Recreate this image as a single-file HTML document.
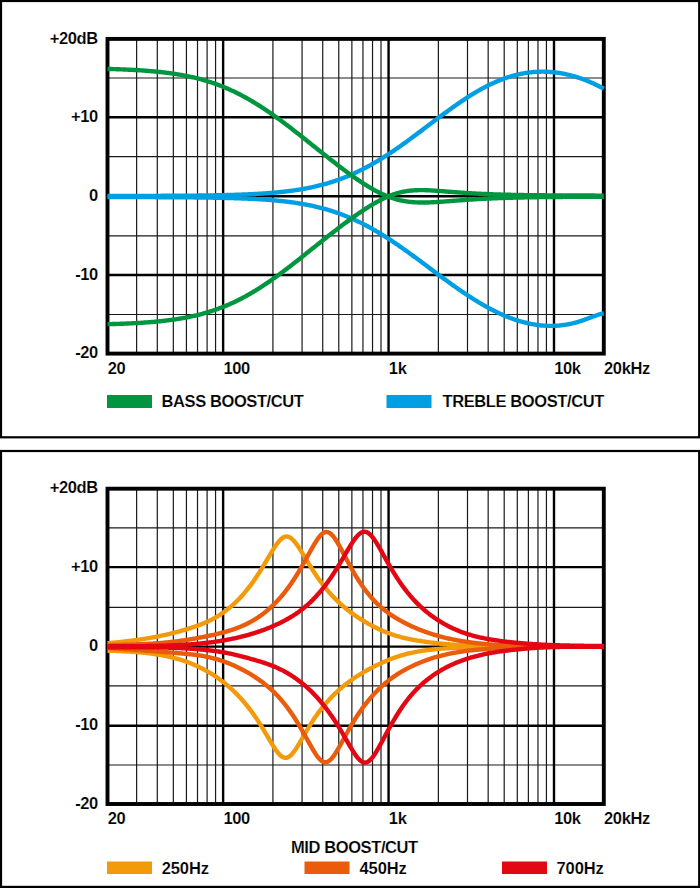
<!DOCTYPE html>
<html><head><meta charset="utf-8"><style>
html,body{margin:0;padding:0;background:#fff;width:700px;height:888px;overflow:hidden}
svg{display:block}
.t{font-family:"Liberation Sans",sans-serif;font-weight:bold;font-size:16.5px;fill:#000;letter-spacing:-0.4px;stroke:#fff;stroke-width:0.15px}
.hz{letter-spacing:-0.1px}
</style></head><body>
<svg width="700" height="888" viewBox="0 0 700 888">
<rect width="700" height="888" fill="#fff"/>
<rect x="1" y="1" width="698.2" height="436.3" fill="none" stroke="#000" stroke-width="2.2"/>
<rect x="1" y="451" width="698.2" height="435.9" fill="none" stroke="#000" stroke-width="2.2"/>
<path d="M136.63,38.90V353.60M157.30,38.90V353.60M173.33,38.90V353.60M186.43,38.90V353.60M197.51,38.90V353.60M207.10,38.90V353.60M215.56,38.90V353.60M272.93,38.90V353.60M302.06,38.90V353.60M322.73,38.90V353.60M338.77,38.90V353.60M351.87,38.90V353.60M362.94,38.90V353.60M372.53,38.90V353.60M381.00,38.90V353.60M438.37,38.90V353.60M467.50,38.90V353.60M488.17,38.90V353.60M504.20,38.90V353.60M517.30,38.90V353.60M528.37,38.90V353.60M537.97,38.90V353.60M546.43,38.90V353.60M107.50,78.00H603.80M107.50,156.57H603.80M107.50,235.80H603.80M107.50,314.50H603.80" stroke="#1a1a1a" stroke-width="1.2" fill="none"/>
<path d="M223.13,38.90V353.60M388.57,38.90V353.60M554.00,38.90V353.60M107.50,117.30H603.80M107.50,196.20H603.80M107.50,275.00H603.80" stroke="#000" stroke-width="2.4" fill="none"/>
<rect x="107.5" y="38.90" width="496.30" height="314.70" fill="none" stroke="#000" stroke-width="3.9"/>
<path d="M136.63,488.70V804.00M157.30,488.70V804.00M173.33,488.70V804.00M186.43,488.70V804.00M197.51,488.70V804.00M207.10,488.70V804.00M215.56,488.70V804.00M272.93,488.70V804.00M302.06,488.70V804.00M322.73,488.70V804.00M338.77,488.70V804.00M351.87,488.70V804.00M362.94,488.70V804.00M372.53,488.70V804.00M381.00,488.70V804.00M438.37,488.70V804.00M467.50,488.70V804.00M488.17,488.70V804.00M504.20,488.70V804.00M517.30,488.70V804.00M528.37,488.70V804.00M537.97,488.70V804.00M546.43,488.70V804.00M107.50,527.80H603.80M107.50,607.30H603.80M107.50,685.80H603.80M107.50,765.00H603.80" stroke="#1a1a1a" stroke-width="1.2" fill="none"/>
<path d="M223.13,488.70V804.00M388.57,488.70V804.00M554.00,488.70V804.00M107.50,567.10H603.80M107.50,646.60H603.80M107.50,725.70H603.80" stroke="#000" stroke-width="2.4" fill="none"/>
<rect x="107.5" y="488.70" width="496.30" height="315.30" fill="none" stroke="#000" stroke-width="3.9"/>
<text x="97.8" y="43.60" text-anchor="end" class="t">+20dB</text>
<text x="97.8" y="122.28" text-anchor="end" class="t">+10</text>
<text x="97.8" y="200.95" text-anchor="end" class="t">0</text>
<text x="97.8" y="279.62" text-anchor="end" class="t">-10</text>
<text x="97.8" y="358.30" text-anchor="end" class="t">-20</text>
<text x="107.80" y="373.90" class="t">20</text>
<text x="223.43" y="373.90" class="t">100</text>
<text x="388.87" y="373.90" class="t">1k</text>
<text x="554.30" y="373.90" class="t">10k</text>
<text x="604.10" y="373.90" class="t">20kHz</text>
<text x="97.8" y="493.40" text-anchor="end" class="t">+20dB</text>
<text x="97.8" y="572.23" text-anchor="end" class="t">+10</text>
<text x="97.8" y="651.05" text-anchor="end" class="t">0</text>
<text x="97.8" y="729.88" text-anchor="end" class="t">-10</text>
<text x="97.8" y="808.70" text-anchor="end" class="t">-20</text>
<text x="107.80" y="824.00" class="t">20</text>
<text x="223.43" y="824.00" class="t">100</text>
<text x="388.87" y="824.00" class="t">1k</text>
<text x="554.30" y="824.00" class="t">10k</text>
<text x="604.10" y="824.00" class="t">20kHz</text>
<rect x="107" y="395" width="45" height="13" fill="#009640"/>
<text x="161.5" y="407.3" class="t">BASS BOOST/CUT</text>
<rect x="386.5" y="395" width="45" height="13" fill="#009FE3"/>
<text x="442.5" y="407.3" class="t">TREBLE BOOST/CUT</text>
<text x="291" y="852.8" class="t">MID BOOST/CUT</text>
<rect x="107" y="861.5" width="45" height="12.5" fill="#F39A0B"/>
<text x="161.7" y="873.8" class="t hz">250Hz</text>
<rect x="304.5" y="861.5" width="45" height="12.5" fill="#EA5B0C"/>
<text x="359.5" y="873.8" class="t hz">450Hz</text>
<rect x="502" y="861.5" width="45" height="12.5" fill="#E30613"/>
<text x="556.5" y="873.8" class="t hz">700Hz</text>
<path d="M107.5,197.08 L108.5,197.08 L109.5,197.08 L110.5,197.08 L111.5,197.09 L112.5,197.09 L113.5,197.09 L114.5,197.09 L115.5,197.09 L116.5,197.09 L117.5,197.09 L118.5,197.09 L119.5,197.09 L120.5,197.10 L121.5,197.10 L122.5,197.10 L123.5,197.10 L124.5,197.10 L125.5,197.10 L126.5,197.11 L127.5,197.11 L128.5,197.11 L129.5,197.11 L130.5,197.11 L131.5,197.11 L132.5,197.12 L133.5,197.12 L134.5,197.12 L135.5,197.12 L136.5,197.12 L137.5,197.13 L138.5,197.13 L139.5,197.13 L140.5,197.13 L141.5,197.13 L142.5,197.14 L143.5,197.14 L144.5,197.14 L145.5,197.14 L146.5,197.15 L147.5,197.15 L148.5,197.15 L149.5,197.16 L150.5,197.16 L151.5,197.16 L152.5,197.17 L153.5,197.17 L154.5,197.17 L155.5,197.18 L156.5,197.18 L157.5,197.18 L158.5,197.19 L159.5,197.19 L160.5,197.20 L161.5,197.20 L162.5,197.20 L163.5,197.21 L164.5,197.21 L165.5,197.22 L166.5,197.22 L167.5,197.23 L168.5,197.23 L169.5,197.24 L170.5,197.24 L171.5,197.25 L172.5,197.25 L173.5,197.26 L174.5,197.27 L175.5,197.27 L176.5,197.28 L177.5,197.28 L178.5,197.29 L179.5,197.30 L180.5,197.30 L181.5,197.31 L182.5,197.32 L183.5,197.33 L184.5,197.33 L185.5,197.34 L186.5,197.35 L187.5,197.36 L188.5,197.37 L189.5,197.38 L190.5,197.39 L191.5,197.40 L192.5,197.41 L193.5,197.42 L194.5,197.43 L195.5,197.44 L196.5,197.45 L197.5,197.46 L198.5,197.47 L199.5,197.48 L200.5,197.49 L201.5,197.51 L202.5,197.52 L203.5,197.53 L204.5,197.55 L205.5,197.56 L206.5,197.57 L207.5,197.59 L208.5,197.60 L209.5,197.62 L210.5,197.64 L211.5,197.65 L212.5,197.67 L213.5,197.69 L214.5,197.70 L215.5,197.72 L216.5,197.74 L217.5,197.76 L218.5,197.78 L219.5,197.80 L220.5,197.82 L221.5,197.84 L222.5,197.87 L223.5,197.89 L224.5,197.91 L225.5,197.94 L226.5,197.96 L227.5,197.99 L228.5,198.01 L229.5,198.04 L230.5,198.07 L231.5,198.10 L232.5,198.13 L233.5,198.16 L234.5,198.19 L235.5,198.22 L236.5,198.25 L237.5,198.28 L238.5,198.32 L239.5,198.35 L240.5,198.39 L241.5,198.43 L242.5,198.46 L243.5,198.50 L244.5,198.54 L245.5,198.58 L246.5,198.63 L247.5,198.67 L248.5,198.71 L249.5,198.76 L250.5,198.81 L251.5,198.86 L252.5,198.91 L253.5,198.96 L254.5,199.01 L255.5,199.06 L256.5,199.12 L257.5,199.17 L258.5,199.23 L259.5,199.29 L260.5,199.35 L261.5,199.42 L262.5,199.48 L263.5,199.55 L264.5,199.61 L265.5,199.68 L266.5,199.76 L267.5,199.83 L268.5,199.90 L269.5,199.98 L270.5,200.06 L271.5,200.14 L272.5,200.23 L273.5,200.31 L274.5,200.40 L275.5,200.49 L276.5,200.58 L277.5,200.68 L278.5,200.77 L279.5,200.87 L280.5,200.97 L281.5,201.08 L282.5,201.18 L283.5,201.29 L284.5,201.41 L285.5,201.52 L286.5,201.64 L287.5,201.76 L288.5,201.88 L289.5,202.01 L290.5,202.14 L291.5,202.27 L292.5,202.41 L293.5,202.55 L294.5,202.69 L295.5,202.84 L296.5,202.99 L297.5,203.14 L298.5,203.30 L299.5,203.46 L300.5,203.62 L301.5,203.79 L302.5,203.96 L303.5,204.14 L304.5,204.32 L305.5,204.50 L306.5,204.69 L307.5,204.88 L308.5,205.08 L309.5,205.28 L310.5,205.48 L311.5,205.69 L312.5,205.91 L313.5,206.13 L314.5,206.35 L315.5,206.58 L316.5,206.81 L317.5,207.05 L318.5,207.29 L319.5,207.54 L320.5,207.79 L321.5,208.05 L322.5,208.31 L323.5,208.58 L324.5,208.86 L325.5,209.14 L326.5,209.42 L327.5,209.71 L328.5,210.01 L329.5,210.31 L330.5,210.62 L331.5,210.93 L332.5,211.25 L333.5,211.57 L334.5,211.90 L335.5,212.24 L336.5,212.58 L337.5,212.93 L338.5,213.28 L339.5,213.64 L340.5,214.01 L341.5,214.38 L342.5,214.76 L343.5,215.14 L344.5,215.53 L345.5,215.93 L346.5,216.33 L347.5,216.74 L348.5,217.16 L349.5,217.58 L350.5,218.01 L351.5,218.44 L352.5,218.88 L353.5,219.33 L354.5,219.78 L355.5,220.24 L356.5,220.71 L357.5,221.18 L358.5,221.66 L359.5,222.14 L360.5,222.64 L361.5,223.13 L362.5,223.64 L363.5,224.15 L364.5,224.66 L365.5,225.18 L366.5,225.71 L367.5,226.24 L368.5,226.78 L369.5,227.33 L370.5,227.88 L371.5,228.44 L372.5,229.00 L373.5,229.57 L374.5,230.15 L375.5,230.73 L376.5,231.31 L377.5,231.90 L378.5,232.50 L379.5,233.10 L380.5,233.71 L381.5,234.32 L382.5,234.94 L383.5,235.56 L384.5,236.19 L385.5,236.82 L386.5,237.46 L387.5,238.10 L388.5,238.75 L389.5,239.40 L390.5,240.05 L391.5,240.71 L392.5,241.38 L393.5,242.04 L394.5,242.72 L395.5,243.39 L396.5,244.07 L397.5,244.76 L398.5,245.44 L399.5,246.13 L400.5,246.83 L401.5,247.53 L402.5,248.23 L403.5,248.93 L404.5,249.64 L405.5,250.35 L406.5,251.06 L407.5,251.78 L408.5,252.50 L409.5,253.22 L410.5,253.94 L411.5,254.67 L412.5,255.39 L413.5,256.12 L414.5,256.85 L415.5,257.59 L416.5,258.32 L417.5,259.06 L418.5,259.80 L419.5,260.54 L420.5,261.28 L421.5,262.02 L422.5,262.76 L423.5,263.50 L424.5,264.25 L425.5,264.99 L426.5,265.74 L427.5,266.48 L428.5,267.23 L429.5,267.98 L430.5,268.72 L431.5,269.47 L432.5,270.21 L433.5,270.96 L434.5,271.70 L435.5,272.45 L436.5,273.19 L437.5,273.93 L438.5,274.68 L439.5,275.42 L440.5,276.16 L441.5,276.90 L442.5,277.63 L443.5,278.37 L444.5,279.10 L445.5,279.83 L446.5,280.56 L447.5,281.29 L448.5,282.02 L449.5,282.74 L450.5,283.46 L451.5,284.18 L452.5,284.90 L453.5,285.61 L454.5,286.32 L455.5,287.03 L456.5,287.73 L457.5,288.43 L458.5,289.13 L459.5,289.82 L460.5,290.52 L461.5,291.20 L462.5,291.89 L463.5,292.56 L464.5,293.24 L465.5,293.91 L466.5,294.58 L467.5,295.24 L468.5,295.90 L469.5,296.55 L470.5,297.20 L471.5,297.84 L472.5,298.48 L473.5,299.11 L474.5,299.74 L475.5,300.36 L476.5,300.98 L477.5,301.59 L478.5,302.20 L479.5,302.80 L480.5,303.39 L481.5,303.98 L482.5,304.56 L483.5,305.14 L484.5,305.71 L485.5,306.27 L486.5,306.83 L487.5,307.38 L488.5,307.92 L489.5,308.46 L490.5,308.99 L491.5,309.52 L492.5,310.03 L493.5,310.54 L494.5,311.05 L495.5,311.54 L496.5,312.03 L497.5,312.51 L498.5,312.98 L499.5,313.45 L500.5,313.91 L501.5,314.36 L502.5,314.80 L503.5,315.24 L504.5,315.66 L505.5,316.08 L506.5,316.49 L507.5,316.90 L508.5,317.29 L509.5,317.68 L510.5,318.06 L511.5,318.43 L512.5,318.79 L513.5,319.14 L514.5,319.49 L515.5,319.82 L516.5,320.15 L517.5,320.47 L518.5,320.78 L519.5,321.08 L520.5,321.38 L521.5,321.66 L522.5,321.94 L523.5,322.20 L524.5,322.46 L525.5,322.71 L526.5,322.95 L527.5,323.18 L528.5,323.40 L529.5,323.62 L530.5,323.82 L531.5,324.01 L532.5,324.20 L533.5,324.38 L534.5,324.54 L535.5,324.70 L536.5,324.85 L537.5,324.98 L538.5,325.11 L539.5,325.23 L540.5,325.34 L541.5,325.44 L542.5,325.53 L543.5,325.61 L544.5,325.68 L545.5,325.74 L546.5,325.79 L547.5,325.83 L548.5,325.86 L549.5,325.88 L550.5,325.89 L551.5,325.89 L552.5,325.87 L553.5,325.85 L554.5,325.82 L555.5,325.78 L556.5,325.72 L557.5,325.66 L558.5,325.58 L559.5,325.50 L560.5,325.40 L561.5,325.29 L562.5,325.17 L563.5,325.04 L564.5,324.90 L565.5,324.75 L566.5,324.58 L567.5,324.41 L568.5,324.22 L569.5,324.02 L570.5,323.81 L571.5,323.59 L572.5,323.36 L573.5,323.12 L574.5,322.86 L575.5,322.60 L576.5,322.32 L577.5,322.03 L578.5,321.74 L579.5,321.43 L580.5,321.11 L581.5,320.79 L582.5,320.45 L583.5,320.11 L584.5,319.76 L585.5,319.40 L586.5,319.04 L587.5,318.67 L588.5,318.30 L589.5,317.92 L590.5,317.55 L591.5,317.17 L592.5,316.79 L593.5,316.42 L594.5,316.06 L595.5,315.70 L596.5,315.36 L597.5,315.02 L598.5,314.71 L599.5,314.42 L600.5,314.15 L601.5,313.91 L602.5,313.70 L603.5,313.53 L603.8,313.48" fill="none" stroke="#009FE3" stroke-width="4.4" stroke-linejoin="round"/>
<path d="M107.5,195.94 L108.5,195.94 L109.5,195.94 L110.5,195.94 L111.5,195.94 L112.5,195.94 L113.5,195.93 L114.5,195.93 L115.5,195.93 L116.5,195.93 L117.5,195.93 L118.5,195.93 L119.5,195.93 L120.5,195.93 L121.5,195.92 L122.5,195.92 L123.5,195.92 L124.5,195.92 L125.5,195.92 L126.5,195.92 L127.5,195.92 L128.5,195.91 L129.5,195.91 L130.5,195.91 L131.5,195.91 L132.5,195.91 L133.5,195.91 L134.5,195.90 L135.5,195.90 L136.5,195.90 L137.5,195.90 L138.5,195.89 L139.5,195.89 L140.5,195.89 L141.5,195.89 L142.5,195.89 L143.5,195.88 L144.5,195.88 L145.5,195.88 L146.5,195.88 L147.5,195.87 L148.5,195.87 L149.5,195.87 L150.5,195.86 L151.5,195.86 L152.5,195.86 L153.5,195.85 L154.5,195.85 L155.5,195.85 L156.5,195.84 L157.5,195.84 L158.5,195.84 L159.5,195.83 L160.5,195.83 L161.5,195.82 L162.5,195.82 L163.5,195.81 L164.5,195.81 L165.5,195.81 L166.5,195.80 L167.5,195.80 L168.5,195.79 L169.5,195.79 L170.5,195.78 L171.5,195.78 L172.5,195.77 L173.5,195.76 L174.5,195.76 L175.5,195.75 L176.5,195.75 L177.5,195.74 L178.5,195.73 L179.5,195.73 L180.5,195.72 L181.5,195.71 L182.5,195.70 L183.5,195.70 L184.5,195.69 L185.5,195.68 L186.5,195.67 L187.5,195.66 L188.5,195.65 L189.5,195.65 L190.5,195.64 L191.5,195.63 L192.5,195.62 L193.5,195.61 L194.5,195.60 L195.5,195.59 L196.5,195.58 L197.5,195.56 L198.5,195.55 L199.5,195.54 L200.5,195.53 L201.5,195.52 L202.5,195.50 L203.5,195.49 L204.5,195.48 L205.5,195.46 L206.5,195.45 L207.5,195.43 L208.5,195.42 L209.5,195.40 L210.5,195.39 L211.5,195.37 L212.5,195.35 L213.5,195.34 L214.5,195.32 L215.5,195.30 L216.5,195.28 L217.5,195.26 L218.5,195.24 L219.5,195.22 L220.5,195.20 L221.5,195.18 L222.5,195.16 L223.5,195.13 L224.5,195.11 L225.5,195.09 L226.5,195.06 L227.5,195.04 L228.5,195.01 L229.5,194.98 L230.5,194.96 L231.5,194.93 L232.5,194.90 L233.5,194.87 L234.5,194.84 L235.5,194.81 L236.5,194.77 L237.5,194.74 L238.5,194.71 L239.5,194.67 L240.5,194.64 L241.5,194.60 L242.5,194.56 L243.5,194.52 L244.5,194.48 L245.5,194.44 L246.5,194.40 L247.5,194.35 L248.5,194.31 L249.5,194.26 L250.5,194.22 L251.5,194.17 L252.5,194.12 L253.5,194.07 L254.5,194.02 L255.5,193.96 L256.5,193.91 L257.5,193.85 L258.5,193.79 L259.5,193.73 L260.5,193.67 L261.5,193.61 L262.5,193.54 L263.5,193.48 L264.5,193.41 L265.5,193.34 L266.5,193.27 L267.5,193.20 L268.5,193.12 L269.5,193.04 L270.5,192.96 L271.5,192.88 L272.5,192.80 L273.5,192.71 L274.5,192.63 L275.5,192.54 L276.5,192.45 L277.5,192.35 L278.5,192.25 L279.5,192.15 L280.5,192.05 L281.5,191.95 L282.5,191.84 L283.5,191.73 L284.5,191.62 L285.5,191.50 L286.5,191.39 L287.5,191.27 L288.5,191.14 L289.5,191.02 L290.5,190.89 L291.5,190.75 L292.5,190.62 L293.5,190.48 L294.5,190.33 L295.5,190.19 L296.5,190.04 L297.5,189.89 L298.5,189.73 L299.5,189.57 L300.5,189.40 L301.5,189.24 L302.5,189.06 L303.5,188.89 L304.5,188.71 L305.5,188.52 L306.5,188.34 L307.5,188.14 L308.5,187.95 L309.5,187.75 L310.5,187.54 L311.5,187.33 L312.5,187.12 L313.5,186.90 L314.5,186.68 L315.5,186.45 L316.5,186.21 L317.5,185.98 L318.5,185.73 L319.5,185.48 L320.5,185.23 L321.5,184.97 L322.5,184.71 L323.5,184.44 L324.5,184.17 L325.5,183.89 L326.5,183.60 L327.5,183.31 L328.5,183.01 L329.5,182.71 L330.5,182.41 L331.5,182.09 L332.5,181.77 L333.5,181.45 L334.5,181.12 L335.5,180.78 L336.5,180.44 L337.5,180.09 L338.5,179.74 L339.5,179.37 L340.5,179.01 L341.5,178.63 L342.5,178.26 L343.5,177.87 L344.5,177.48 L345.5,177.08 L346.5,176.68 L347.5,176.27 L348.5,175.85 L349.5,175.42 L350.5,175.00 L351.5,174.56 L352.5,174.12 L353.5,173.67 L354.5,173.21 L355.5,172.75 L356.5,172.28 L357.5,171.81 L358.5,171.33 L359.5,170.84 L360.5,170.35 L361.5,169.85 L362.5,169.34 L363.5,168.83 L364.5,168.31 L365.5,167.79 L366.5,167.26 L367.5,166.72 L368.5,166.18 L369.5,165.63 L370.5,165.08 L371.5,164.52 L372.5,163.95 L373.5,163.38 L374.5,162.80 L375.5,162.21 L376.5,161.62 L377.5,161.03 L378.5,160.43 L379.5,159.82 L380.5,159.21 L381.5,158.59 L382.5,157.97 L383.5,157.35 L384.5,156.71 L385.5,156.08 L386.5,155.43 L387.5,154.79 L388.5,154.14 L389.5,153.48 L390.5,152.82 L391.5,152.15 L392.5,151.48 L393.5,150.81 L394.5,150.13 L395.5,149.45 L396.5,148.76 L397.5,148.07 L398.5,147.38 L399.5,146.68 L400.5,145.98 L401.5,145.27 L402.5,144.56 L403.5,143.85 L404.5,143.14 L405.5,142.42 L406.5,141.70 L407.5,140.97 L408.5,140.25 L409.5,139.52 L410.5,138.79 L411.5,138.05 L412.5,137.32 L413.5,136.58 L414.5,135.84 L415.5,135.10 L416.5,134.36 L417.5,133.61 L418.5,132.86 L419.5,132.12 L420.5,131.37 L421.5,130.62 L422.5,129.87 L423.5,129.11 L424.5,128.36 L425.5,127.61 L426.5,126.85 L427.5,126.10 L428.5,125.35 L429.5,124.59 L430.5,123.84 L431.5,123.08 L432.5,122.33 L433.5,121.58 L434.5,120.83 L435.5,120.07 L436.5,119.32 L437.5,118.57 L438.5,117.83 L439.5,117.08 L440.5,116.34 L441.5,115.59 L442.5,114.85 L443.5,114.11 L444.5,113.37 L445.5,112.64 L446.5,111.91 L447.5,111.18 L448.5,110.45 L449.5,109.72 L450.5,109.00 L451.5,108.29 L452.5,107.57 L453.5,106.86 L454.5,106.15 L455.5,105.45 L456.5,104.75 L457.5,104.05 L458.5,103.36 L459.5,102.68 L460.5,101.99 L461.5,101.32 L462.5,100.64 L463.5,99.98 L464.5,99.31 L465.5,98.66 L466.5,98.00 L467.5,97.36 L468.5,96.72 L469.5,96.08 L470.5,95.45 L471.5,94.83 L472.5,94.22 L473.5,93.61 L474.5,93.00 L475.5,92.41 L476.5,91.82 L477.5,91.23 L478.5,90.66 L479.5,90.09 L480.5,89.53 L481.5,88.97 L482.5,88.43 L483.5,87.89 L484.5,87.36 L485.5,86.83 L486.5,86.32 L487.5,85.81 L488.5,85.31 L489.5,84.82 L490.5,84.33 L491.5,83.86 L492.5,83.39 L493.5,82.93 L494.5,82.48 L495.5,82.04 L496.5,81.61 L497.5,81.19 L498.5,80.77 L499.5,80.36 L500.5,79.97 L501.5,79.58 L502.5,79.20 L503.5,78.83 L504.5,78.47 L505.5,78.12 L506.5,77.77 L507.5,77.44 L508.5,77.11 L509.5,76.80 L510.5,76.49 L511.5,76.20 L512.5,75.91 L513.5,75.63 L514.5,75.36 L515.5,75.10 L516.5,74.85 L517.5,74.61 L518.5,74.38 L519.5,74.16 L520.5,73.95 L521.5,73.74 L522.5,73.55 L523.5,73.37 L524.5,73.19 L525.5,73.03 L526.5,72.87 L527.5,72.73 L528.5,72.59 L529.5,72.46 L530.5,72.34 L531.5,72.24 L532.5,72.14 L533.5,72.05 L534.5,71.97 L535.5,71.90 L536.5,71.83 L537.5,71.78 L538.5,71.74 L539.5,71.71 L540.5,71.68 L541.5,71.67 L542.5,71.66 L543.5,71.67 L544.5,71.68 L545.5,71.70 L546.5,71.74 L547.5,71.78 L548.5,71.83 L549.5,71.89 L550.5,71.96 L551.5,72.04 L552.5,72.13 L553.5,72.22 L554.5,72.33 L555.5,72.45 L556.5,72.57 L557.5,72.71 L558.5,72.85 L559.5,73.00 L560.5,73.17 L561.5,73.34 L562.5,73.52 L563.5,73.71 L564.5,73.91 L565.5,74.11 L566.5,74.33 L567.5,74.56 L568.5,74.79 L569.5,75.04 L570.5,75.29 L571.5,75.55 L572.5,75.83 L573.5,76.11 L574.5,76.39 L575.5,76.69 L576.5,77.00 L577.5,77.32 L578.5,77.64 L579.5,77.98 L580.5,78.32 L581.5,78.67 L582.5,79.03 L583.5,79.40 L584.5,79.78 L585.5,80.16 L586.5,80.56 L587.5,80.96 L588.5,81.37 L589.5,81.79 L590.5,82.22 L591.5,82.65 L592.5,83.10 L593.5,83.55 L594.5,84.01 L595.5,84.48 L596.5,84.96 L597.5,85.45 L598.5,85.94 L599.5,86.44 L600.5,86.95 L601.5,87.47 L602.5,87.99 L603.5,88.52 L603.8,88.68" fill="none" stroke="#009FE3" stroke-width="4.4" stroke-linejoin="round"/>
<path d="M107.5,324.20 L108.5,324.17 L109.5,324.14 L110.5,324.12 L111.5,324.09 L112.5,324.06 L113.5,324.03 L114.5,324.00 L115.5,323.97 L116.5,323.93 L117.5,323.90 L118.5,323.87 L119.5,323.83 L120.5,323.79 L121.5,323.76 L122.5,323.72 L123.5,323.68 L124.5,323.64 L125.5,323.60 L126.5,323.56 L127.5,323.51 L128.5,323.47 L129.5,323.42 L130.5,323.37 L131.5,323.33 L132.5,323.28 L133.5,323.22 L134.5,323.17 L135.5,323.12 L136.5,323.06 L137.5,323.01 L138.5,322.95 L139.5,322.89 L140.5,322.83 L141.5,322.76 L142.5,322.70 L143.5,322.63 L144.5,322.56 L145.5,322.49 L146.5,322.42 L147.5,322.35 L148.5,322.27 L149.5,322.20 L150.5,322.12 L151.5,322.03 L152.5,321.95 L153.5,321.86 L154.5,321.78 L155.5,321.69 L156.5,321.59 L157.5,321.50 L158.5,321.40 L159.5,321.30 L160.5,321.20 L161.5,321.09 L162.5,320.99 L163.5,320.87 L164.5,320.76 L165.5,320.65 L166.5,320.53 L167.5,320.40 L168.5,320.28 L169.5,320.15 L170.5,320.02 L171.5,319.89 L172.5,319.75 L173.5,319.61 L174.5,319.46 L175.5,319.32 L176.5,319.16 L177.5,319.01 L178.5,318.85 L179.5,318.69 L180.5,318.52 L181.5,318.35 L182.5,318.18 L183.5,318.00 L184.5,317.82 L185.5,317.63 L186.5,317.44 L187.5,317.25 L188.5,317.05 L189.5,316.84 L190.5,316.64 L191.5,316.42 L192.5,316.21 L193.5,315.98 L194.5,315.76 L195.5,315.52 L196.5,315.29 L197.5,315.05 L198.5,314.80 L199.5,314.55 L200.5,314.29 L201.5,314.03 L202.5,313.76 L203.5,313.48 L204.5,313.20 L205.5,312.92 L206.5,312.63 L207.5,312.33 L208.5,312.03 L209.5,311.72 L210.5,311.41 L211.5,311.09 L212.5,310.76 L213.5,310.43 L214.5,310.09 L215.5,309.74 L216.5,309.39 L217.5,309.04 L218.5,308.67 L219.5,308.30 L220.5,307.93 L221.5,307.54 L222.5,307.15 L223.5,306.76 L224.5,306.35 L225.5,305.95 L226.5,305.53 L227.5,305.11 L228.5,304.68 L229.5,304.24 L230.5,303.80 L231.5,303.35 L232.5,302.89 L233.5,302.43 L234.5,301.96 L235.5,301.48 L236.5,301.00 L237.5,300.51 L238.5,300.01 L239.5,299.50 L240.5,298.99 L241.5,298.48 L242.5,297.95 L243.5,297.42 L244.5,296.88 L245.5,296.34 L246.5,295.79 L247.5,295.23 L248.5,294.66 L249.5,294.09 L250.5,293.51 L251.5,292.93 L252.5,292.34 L253.5,291.74 L254.5,291.14 L255.5,290.53 L256.5,289.92 L257.5,289.29 L258.5,288.67 L259.5,288.03 L260.5,287.39 L261.5,286.75 L262.5,286.10 L263.5,285.44 L264.5,284.78 L265.5,284.11 L266.5,283.44 L267.5,282.76 L268.5,282.08 L269.5,281.39 L270.5,280.69 L271.5,279.99 L272.5,279.29 L273.5,278.58 L274.5,277.87 L275.5,277.15 L276.5,276.43 L277.5,275.70 L278.5,274.97 L279.5,274.24 L280.5,273.50 L281.5,272.76 L282.5,272.02 L283.5,271.27 L284.5,270.51 L285.5,269.76 L286.5,269.00 L287.5,268.24 L288.5,267.47 L289.5,266.70 L290.5,265.93 L291.5,265.16 L292.5,264.38 L293.5,263.61 L294.5,262.83 L295.5,262.04 L296.5,261.26 L297.5,260.47 L298.5,259.68 L299.5,258.90 L300.5,258.10 L301.5,257.31 L302.5,256.52 L303.5,255.72 L304.5,254.93 L305.5,254.13 L306.5,253.34 L307.5,252.54 L308.5,251.74 L309.5,250.94 L310.5,250.14 L311.5,249.34 L312.5,248.55 L313.5,247.75 L314.5,246.95 L315.5,246.15 L316.5,245.35 L317.5,244.56 L318.5,243.76 L319.5,242.96 L320.5,242.17 L321.5,241.37 L322.5,240.58 L323.5,239.79 L324.5,239.00 L325.5,238.21 L326.5,237.42 L327.5,236.64 L328.5,235.85 L329.5,235.07 L330.5,234.29 L331.5,233.51 L332.5,232.73 L333.5,231.96 L334.5,231.18 L335.5,230.41 L336.5,229.65 L337.5,228.88 L338.5,228.12 L339.5,227.36 L340.5,226.60 L341.5,225.84 L342.5,225.09 L343.5,224.34 L344.5,223.59 L345.5,222.85 L346.5,222.11 L347.5,221.38 L348.5,220.64 L349.5,219.91 L350.5,219.19 L351.5,218.47 L352.5,217.75 L353.5,217.04 L354.5,216.33 L355.5,215.62 L356.5,214.92 L357.5,214.23 L358.5,213.53 L359.5,212.85 L360.5,212.17 L361.5,211.49 L362.5,210.82 L363.5,210.16 L364.5,209.50 L365.5,208.85 L366.5,208.21 L367.5,207.57 L368.5,206.94 L369.5,206.32 L370.5,205.70 L371.5,205.10 L372.5,204.50 L373.5,203.91 L374.5,203.33 L375.5,202.75 L376.5,202.19 L377.5,201.64 L378.5,201.10 L379.5,200.57 L380.5,200.04 L381.5,199.53 L382.5,199.04 L383.5,198.55 L384.5,198.08 L385.5,197.62 L386.5,197.17 L387.5,196.73 L388.5,196.31 L389.5,195.90 L390.5,195.51 L391.5,195.13 L392.5,194.76 L393.5,194.41 L394.5,194.07 L395.5,193.75 L396.5,193.44 L397.5,193.15 L398.5,192.87 L399.5,192.61 L400.5,192.36 L401.5,192.13 L402.5,191.91 L403.5,191.70 L404.5,191.51 L405.5,191.33 L406.5,191.17 L407.5,191.02 L408.5,190.88 L409.5,190.76 L410.5,190.65 L411.5,190.55 L412.5,190.46 L413.5,190.39 L414.5,190.32 L415.5,190.27 L416.5,190.22 L417.5,190.19 L418.5,190.16 L419.5,190.14 L420.5,190.13 L421.5,190.13 L422.5,190.14 L423.5,190.15 L424.5,190.17 L425.5,190.20 L426.5,190.23 L427.5,190.26 L428.5,190.31 L429.5,190.35 L430.5,190.40 L431.5,190.46 L432.5,190.52 L433.5,190.58 L434.5,190.64 L435.5,190.71 L436.5,190.78 L437.5,190.85 L438.5,190.92 L439.5,190.99 L440.5,191.07 L441.5,191.14 L442.5,191.22 L443.5,191.30 L444.5,191.38 L445.5,191.46 L446.5,191.53 L447.5,191.61 L448.5,191.69 L449.5,191.77 L450.5,191.85 L451.5,191.93 L452.5,192.01 L453.5,192.08 L454.5,192.16 L455.5,192.23 L456.5,192.31 L457.5,192.38 L458.5,192.46 L459.5,192.53 L460.5,192.60 L461.5,192.67 L462.5,192.74 L463.5,192.81 L464.5,192.87 L465.5,192.94 L466.5,193.00 L467.5,193.07 L468.5,193.13 L469.5,193.19 L470.5,193.25 L471.5,193.31 L472.5,193.37 L473.5,193.42 L474.5,193.48 L475.5,193.53 L476.5,193.59 L477.5,193.64 L478.5,193.69 L479.5,193.74 L480.5,193.79 L481.5,193.84 L482.5,193.88 L483.5,193.93 L484.5,193.97 L485.5,194.02 L486.5,194.06 L487.5,194.10 L488.5,194.14 L489.5,194.18 L490.5,194.22 L491.5,194.25 L492.5,194.29 L493.5,194.33 L494.5,194.36 L495.5,194.40 L496.5,194.43 L497.5,194.46 L498.5,194.49 L499.5,194.52 L500.5,194.55 L501.5,194.58 L502.5,194.61 L503.5,194.64 L504.5,194.67 L505.5,194.69 L506.5,194.72 L507.5,194.74 L508.5,194.77 L509.5,194.79 L510.5,194.81 L511.5,194.84 L512.5,194.86 L513.5,194.88 L514.5,194.90 L515.5,194.92 L516.5,194.94 L517.5,194.96 L518.5,194.98 L519.5,195.00 L520.5,195.01 L521.5,195.03 L522.5,195.05 L523.5,195.07 L524.5,195.08 L525.5,195.10 L526.5,195.11 L527.5,195.13 L528.5,195.14 L529.5,195.15 L530.5,195.17 L531.5,195.18 L532.5,195.19 L533.5,195.21 L534.5,195.22 L535.5,195.23 L536.5,195.24 L537.5,195.25 L538.5,195.26 L539.5,195.28 L540.5,195.29 L541.5,195.30 L542.5,195.31 L543.5,195.32 L544.5,195.32 L545.5,195.33 L546.5,195.34 L547.5,195.35 L548.5,195.36 L549.5,195.37 L550.5,195.38 L551.5,195.38 L552.5,195.39 L553.5,195.40 L554.5,195.40 L555.5,195.41 L556.5,195.42 L557.5,195.42 L558.5,195.43 L559.5,195.44 L560.5,195.44 L561.5,195.45 L562.5,195.45 L563.5,195.46 L564.5,195.47 L565.5,195.47 L566.5,195.48 L567.5,195.48 L568.5,195.49 L569.5,195.49 L570.5,195.49 L571.5,195.50 L572.5,195.50 L573.5,195.51 L574.5,195.51 L575.5,195.52 L576.5,195.52 L577.5,195.52 L578.5,195.53 L579.5,195.53 L580.5,195.53 L581.5,195.54 L582.5,195.54 L583.5,195.54 L584.5,195.55 L585.5,195.55 L586.5,195.55 L587.5,195.56 L588.5,195.56 L589.5,195.56 L590.5,195.56 L591.5,195.57 L592.5,195.57 L593.5,195.57 L594.5,195.57 L595.5,195.58 L596.5,195.58 L597.5,195.58 L598.5,195.58 L599.5,195.58 L600.5,195.59 L601.5,195.59 L602.5,195.59 L603.5,195.59 L603.8,195.59" fill="none" stroke="#009640" stroke-width="4.4" stroke-linejoin="round"/>
<path d="M107.5,68.92 L108.5,68.95 L109.5,68.98 L110.5,69.01 L111.5,69.04 L112.5,69.07 L113.5,69.10 L114.5,69.13 L115.5,69.16 L116.5,69.20 L117.5,69.23 L118.5,69.27 L119.5,69.31 L120.5,69.34 L121.5,69.38 L122.5,69.42 L123.5,69.46 L124.5,69.51 L125.5,69.55 L126.5,69.59 L127.5,69.64 L128.5,69.69 L129.5,69.74 L130.5,69.79 L131.5,69.84 L132.5,69.89 L133.5,69.94 L134.5,70.00 L135.5,70.05 L136.5,70.11 L137.5,70.17 L138.5,70.23 L139.5,70.29 L140.5,70.36 L141.5,70.43 L142.5,70.49 L143.5,70.56 L144.5,70.63 L145.5,70.71 L146.5,70.78 L147.5,70.86 L148.5,70.94 L149.5,71.02 L150.5,71.10 L151.5,71.19 L152.5,71.28 L153.5,71.37 L154.5,71.46 L155.5,71.55 L156.5,71.65 L157.5,71.75 L158.5,71.85 L159.5,71.95 L160.5,72.06 L161.5,72.17 L162.5,72.28 L163.5,72.40 L164.5,72.52 L165.5,72.64 L166.5,72.76 L167.5,72.89 L168.5,73.02 L169.5,73.15 L170.5,73.29 L171.5,73.43 L172.5,73.57 L173.5,73.72 L174.5,73.87 L175.5,74.02 L176.5,74.18 L177.5,74.34 L178.5,74.50 L179.5,74.67 L180.5,74.85 L181.5,75.02 L182.5,75.20 L183.5,75.39 L184.5,75.58 L185.5,75.77 L186.5,75.97 L187.5,76.17 L188.5,76.37 L189.5,76.59 L190.5,76.80 L191.5,77.02 L192.5,77.25 L193.5,77.48 L194.5,77.71 L195.5,77.95 L196.5,78.19 L197.5,78.44 L198.5,78.70 L199.5,78.96 L200.5,79.23 L201.5,79.50 L202.5,79.77 L203.5,80.05 L204.5,80.34 L205.5,80.63 L206.5,80.93 L207.5,81.24 L208.5,81.55 L209.5,81.86 L210.5,82.19 L211.5,82.52 L212.5,82.85 L213.5,83.19 L214.5,83.54 L215.5,83.89 L216.5,84.25 L217.5,84.61 L218.5,84.98 L219.5,85.36 L220.5,85.75 L221.5,86.14 L222.5,86.53 L223.5,86.94 L224.5,87.35 L225.5,87.76 L226.5,88.19 L227.5,88.62 L228.5,89.05 L229.5,89.50 L230.5,89.95 L231.5,90.40 L232.5,90.87 L233.5,91.34 L234.5,91.81 L235.5,92.29 L236.5,92.78 L237.5,93.28 L238.5,93.78 L239.5,94.29 L240.5,94.81 L241.5,95.33 L242.5,95.86 L243.5,96.40 L244.5,96.94 L245.5,97.49 L246.5,98.04 L247.5,98.60 L248.5,99.17 L249.5,99.74 L250.5,100.32 L251.5,100.91 L252.5,101.50 L253.5,102.10 L254.5,102.70 L255.5,103.31 L256.5,103.93 L257.5,104.55 L258.5,105.18 L259.5,105.81 L260.5,106.45 L261.5,107.10 L262.5,107.75 L263.5,108.41 L264.5,109.07 L265.5,109.73 L266.5,110.40 L267.5,111.08 L268.5,111.76 L269.5,112.45 L270.5,113.14 L271.5,113.84 L272.5,114.54 L273.5,115.24 L274.5,115.95 L275.5,116.67 L276.5,117.38 L277.5,118.11 L278.5,118.83 L279.5,119.56 L280.5,120.30 L281.5,121.03 L282.5,121.78 L283.5,122.52 L284.5,123.27 L285.5,124.02 L286.5,124.78 L287.5,125.53 L288.5,126.29 L289.5,127.06 L290.5,127.83 L291.5,128.59 L292.5,129.37 L293.5,130.14 L294.5,130.92 L295.5,131.70 L296.5,132.48 L297.5,133.26 L298.5,134.04 L299.5,134.83 L300.5,135.62 L301.5,136.41 L302.5,137.20 L303.5,137.99 L304.5,138.78 L305.5,139.58 L306.5,140.37 L307.5,141.17 L308.5,141.97 L309.5,142.76 L310.5,143.56 L311.5,144.36 L312.5,145.16 L313.5,145.96 L314.5,146.76 L315.5,147.56 L316.5,148.36 L317.5,149.16 L318.5,149.95 L319.5,150.75 L320.5,151.55 L321.5,152.35 L322.5,153.14 L323.5,153.94 L324.5,154.73 L325.5,155.53 L326.5,156.32 L327.5,157.11 L328.5,157.90 L329.5,158.68 L330.5,159.47 L331.5,160.25 L332.5,161.04 L333.5,161.82 L334.5,162.59 L335.5,163.37 L336.5,164.14 L337.5,164.91 L338.5,165.68 L339.5,166.45 L340.5,167.21 L341.5,167.97 L342.5,168.72 L343.5,169.48 L344.5,170.23 L345.5,170.97 L346.5,171.71 L347.5,172.45 L348.5,173.18 L349.5,173.91 L350.5,174.64 L351.5,175.36 L352.5,176.07 L353.5,176.78 L354.5,177.49 L355.5,178.19 L356.5,178.88 L357.5,179.57 L358.5,180.25 L359.5,180.93 L360.5,181.60 L361.5,182.26 L362.5,182.91 L363.5,183.56 L364.5,184.20 L365.5,184.84 L366.5,185.46 L367.5,186.08 L368.5,186.69 L369.5,187.29 L370.5,187.88 L371.5,188.46 L372.5,189.03 L373.5,189.59 L374.5,190.15 L375.5,190.69 L376.5,191.22 L377.5,191.74 L378.5,192.25 L379.5,192.75 L380.5,193.23 L381.5,193.71 L382.5,194.17 L383.5,194.62 L384.5,195.06 L385.5,195.49 L386.5,195.90 L387.5,196.30 L388.5,196.69 L389.5,197.06 L390.5,197.42 L391.5,197.77 L392.5,198.11 L393.5,198.43 L394.5,198.74 L395.5,199.03 L396.5,199.31 L397.5,199.58 L398.5,199.84 L399.5,200.08 L400.5,200.31 L401.5,200.53 L402.5,200.73 L403.5,200.92 L404.5,201.10 L405.5,201.27 L406.5,201.42 L407.5,201.57 L408.5,201.70 L409.5,201.82 L410.5,201.93 L411.5,202.03 L412.5,202.12 L413.5,202.20 L414.5,202.27 L415.5,202.33 L416.5,202.38 L417.5,202.42 L418.5,202.46 L419.5,202.48 L420.5,202.50 L421.5,202.52 L422.5,202.52 L423.5,202.52 L424.5,202.51 L425.5,202.50 L426.5,202.48 L427.5,202.45 L428.5,202.43 L429.5,202.39 L430.5,202.35 L431.5,202.31 L432.5,202.26 L433.5,202.21 L434.5,202.16 L435.5,202.10 L436.5,202.05 L437.5,201.98 L438.5,201.92 L439.5,201.85 L440.5,201.79 L441.5,201.72 L442.5,201.65 L443.5,201.57 L444.5,201.50 L445.5,201.43 L446.5,201.35 L447.5,201.28 L448.5,201.20 L449.5,201.12 L450.5,201.05 L451.5,200.97 L452.5,200.89 L453.5,200.81 L454.5,200.74 L455.5,200.66 L456.5,200.58 L457.5,200.51 L458.5,200.43 L459.5,200.36 L460.5,200.28 L461.5,200.21 L462.5,200.14 L463.5,200.06 L464.5,199.99 L465.5,199.92 L466.5,199.85 L467.5,199.78 L468.5,199.71 L469.5,199.65 L470.5,199.58 L471.5,199.52 L472.5,199.45 L473.5,199.39 L474.5,199.33 L475.5,199.26 L476.5,199.20 L477.5,199.15 L478.5,199.09 L479.5,199.03 L480.5,198.97 L481.5,198.92 L482.5,198.87 L483.5,198.81 L484.5,198.76 L485.5,198.71 L486.5,198.66 L487.5,198.61 L488.5,198.57 L489.5,198.52 L490.5,198.47 L491.5,198.43 L492.5,198.38 L493.5,198.34 L494.5,198.30 L495.5,198.26 L496.5,198.22 L497.5,198.18 L498.5,198.14 L499.5,198.10 L500.5,198.07 L501.5,198.03 L502.5,198.00 L503.5,197.96 L504.5,197.93 L505.5,197.90 L506.5,197.86 L507.5,197.83 L508.5,197.80 L509.5,197.77 L510.5,197.75 L511.5,197.72 L512.5,197.69 L513.5,197.66 L514.5,197.64 L515.5,197.61 L516.5,197.59 L517.5,197.56 L518.5,197.54 L519.5,197.52 L520.5,197.49 L521.5,197.47 L522.5,197.45 L523.5,197.43 L524.5,197.41 L525.5,197.39 L526.5,197.37 L527.5,197.35 L528.5,197.33 L529.5,197.31 L530.5,197.30 L531.5,197.28 L532.5,197.26 L533.5,197.25 L534.5,197.23 L535.5,197.22 L536.5,197.20 L537.5,197.19 L538.5,197.17 L539.5,197.16 L540.5,197.15 L541.5,197.13 L542.5,197.12 L543.5,197.11 L544.5,197.10 L545.5,197.08 L546.5,197.07 L547.5,197.06 L548.5,197.05 L549.5,197.04 L550.5,197.03 L551.5,197.02 L552.5,197.01 L553.5,197.00 L554.5,196.99 L555.5,196.98 L556.5,196.97 L557.5,196.97 L558.5,196.96 L559.5,196.95 L560.5,196.94 L561.5,196.93 L562.5,196.93 L563.5,196.92 L564.5,196.91 L565.5,196.91 L566.5,196.90 L567.5,196.89 L568.5,196.89 L569.5,196.88 L570.5,196.87 L571.5,196.87 L572.5,196.86 L573.5,196.86 L574.5,196.85 L575.5,196.85 L576.5,196.84 L577.5,196.84 L578.5,196.83 L579.5,196.83 L580.5,196.82 L581.5,196.82 L582.5,196.81 L583.5,196.81 L584.5,196.81 L585.5,196.80 L586.5,196.80 L587.5,196.79 L588.5,196.79 L589.5,196.79 L590.5,196.78 L591.5,196.78 L592.5,196.78 L593.5,196.77 L594.5,196.77 L595.5,196.77 L596.5,196.77 L597.5,196.76 L598.5,196.76 L599.5,196.76 L600.5,196.75 L601.5,196.75 L602.5,196.75 L603.5,196.75 L603.8,196.75" fill="none" stroke="#009640" stroke-width="4.4" stroke-linejoin="round"/>
<path d="M107.5,650.68 L108.5,650.72 L109.5,650.74 L110.5,650.77 L111.5,650.79 L112.5,650.82 L113.5,650.85 L114.5,650.88 L115.5,650.91 L116.5,650.95 L117.5,650.98 L118.5,651.02 L119.5,651.06 L120.5,651.10 L121.5,651.15 L122.5,651.19 L123.5,651.24 L124.5,651.29 L125.5,651.34 L126.5,651.40 L127.5,651.45 L128.5,651.51 L129.5,651.57 L130.5,651.64 L131.5,651.70 L132.5,651.77 L133.5,651.84 L134.5,651.91 L135.5,651.99 L136.5,652.07 L137.5,652.15 L138.5,652.23 L139.5,652.32 L140.5,652.41 L141.5,652.50 L142.5,652.60 L143.5,652.70 L144.5,652.80 L145.5,652.91 L146.5,653.02 L147.5,653.13 L148.5,653.25 L149.5,653.37 L150.5,653.50 L151.5,653.63 L152.5,653.76 L153.5,653.90 L154.5,654.05 L155.5,654.20 L156.5,654.35 L157.5,654.51 L158.5,654.67 L159.5,654.84 L160.5,655.01 L161.5,655.19 L162.5,655.37 L163.5,655.56 L164.5,655.76 L165.5,655.96 L166.5,656.16 L167.5,656.38 L168.5,656.60 L169.5,656.82 L170.5,657.05 L171.5,657.29 L172.5,657.54 L173.5,657.79 L174.5,658.05 L175.5,658.32 L176.5,658.59 L177.5,658.88 L178.5,659.17 L179.5,659.46 L180.5,659.77 L181.5,660.08 L182.5,660.41 L183.5,660.74 L184.5,661.07 L185.5,661.42 L186.5,661.78 L187.5,662.15 L188.5,662.52 L189.5,662.90 L190.5,663.30 L191.5,663.70 L192.5,664.11 L193.5,664.54 L194.5,664.97 L195.5,665.41 L196.5,665.86 L197.5,666.32 L198.5,666.79 L199.5,667.27 L200.5,667.76 L201.5,668.26 L202.5,668.77 L203.5,669.30 L204.5,669.83 L205.5,670.37 L206.5,670.93 L207.5,671.49 L208.5,672.07 L209.5,672.66 L210.5,673.25 L211.5,673.87 L212.5,674.49 L213.5,675.13 L214.5,675.78 L215.5,676.44 L216.5,677.11 L217.5,677.80 L218.5,678.51 L219.5,679.22 L220.5,679.96 L221.5,680.70 L222.5,681.46 L223.5,682.24 L224.5,683.03 L225.5,683.84 L226.5,684.67 L227.5,685.51 L228.5,686.36 L229.5,687.24 L230.5,688.13 L231.5,689.04 L232.5,689.96 L233.5,690.91 L234.5,691.87 L235.5,692.85 L236.5,693.85 L237.5,694.87 L238.5,695.92 L239.5,696.98 L240.5,698.06 L241.5,699.16 L242.5,700.29 L243.5,701.43 L244.5,702.60 L245.5,703.80 L246.5,705.01 L247.5,706.26 L248.5,707.52 L249.5,708.82 L250.5,710.14 L251.5,711.48 L252.5,712.86 L253.5,714.26 L254.5,715.68 L255.5,717.14 L256.5,718.62 L257.5,720.12 L258.5,721.65 L259.5,723.21 L260.5,724.79 L261.5,726.39 L262.5,728.02 L263.5,729.66 L264.5,731.33 L265.5,733.01 L266.5,734.70 L267.5,736.40 L268.5,738.10 L269.5,739.80 L270.5,741.49 L271.5,743.16 L272.5,744.81 L273.5,746.42 L274.5,747.98 L275.5,749.47 L276.5,750.90 L277.5,752.23 L278.5,753.45 L279.5,754.56 L280.5,755.53 L281.5,756.34 L282.5,756.99 L283.5,757.47 L284.5,757.76 L285.5,757.86 L286.5,757.76 L287.5,757.48 L288.5,757.01 L289.5,756.37 L290.5,755.55 L291.5,754.59 L292.5,753.48 L293.5,752.25 L294.5,750.90 L295.5,749.47 L296.5,747.95 L297.5,746.37 L298.5,744.74 L299.5,743.07 L300.5,741.37 L301.5,739.65 L302.5,737.92 L303.5,736.19 L304.5,734.47 L305.5,732.75 L306.5,731.05 L307.5,729.37 L308.5,727.71 L309.5,726.07 L310.5,724.46 L311.5,722.88 L312.5,721.33 L313.5,719.81 L314.5,718.32 L315.5,716.85 L316.5,715.42 L317.5,714.02 L318.5,712.64 L319.5,711.30 L320.5,709.98 L321.5,708.69 L322.5,707.42 L323.5,706.19 L324.5,704.97 L325.5,703.79 L326.5,702.63 L327.5,701.49 L328.5,700.37 L329.5,699.28 L330.5,698.21 L331.5,697.16 L332.5,696.13 L333.5,695.13 L334.5,694.14 L335.5,693.17 L336.5,692.22 L337.5,691.30 L338.5,690.38 L339.5,689.49 L340.5,688.61 L341.5,687.75 L342.5,686.91 L343.5,686.08 L344.5,685.27 L345.5,684.48 L346.5,683.69 L347.5,682.93 L348.5,682.17 L349.5,681.43 L350.5,680.71 L351.5,679.99 L352.5,679.29 L353.5,678.60 L354.5,677.92 L355.5,677.26 L356.5,676.60 L357.5,675.96 L358.5,675.32 L359.5,674.70 L360.5,674.09 L361.5,673.48 L362.5,672.88 L363.5,672.30 L364.5,671.72 L365.5,671.15 L366.5,670.58 L367.5,670.03 L368.5,669.48 L369.5,668.94 L370.5,668.40 L371.5,667.88 L372.5,667.36 L373.5,666.84 L374.5,666.34 L375.5,665.84 L376.5,665.34 L377.5,664.86 L378.5,664.38 L379.5,663.90 L380.5,663.43 L381.5,662.97 L382.5,662.52 L383.5,662.07 L384.5,661.63 L385.5,661.20 L386.5,660.78 L387.5,660.36 L388.5,659.95 L389.5,659.55 L390.5,659.15 L391.5,658.77 L392.5,658.39 L393.5,658.02 L394.5,657.66 L395.5,657.31 L396.5,656.96 L397.5,656.63 L398.5,656.30 L399.5,655.98 L400.5,655.68 L401.5,655.37 L402.5,655.08 L403.5,654.80 L404.5,654.52 L405.5,654.25 L406.5,653.99 L407.5,653.74 L408.5,653.50 L409.5,653.26 L410.5,653.03 L411.5,652.81 L412.5,652.59 L413.5,652.38 L414.5,652.18 L415.5,651.98 L416.5,651.79 L417.5,651.61 L418.5,651.43 L419.5,651.26 L420.5,651.09 L421.5,650.93 L422.5,650.78 L423.5,650.63 L424.5,650.48 L425.5,650.34 L426.5,650.21 L427.5,650.08 L428.5,649.95 L429.5,649.83 L430.5,649.71 L431.5,649.60 L432.5,649.49 L433.5,649.38 L434.5,649.28 L435.5,649.19 L436.5,649.09 L437.5,649.00 L438.5,648.92 L439.5,648.83 L440.5,648.75 L441.5,648.68 L442.5,648.60 L443.5,648.53 L444.5,648.47 L445.5,648.40 L446.5,648.34 L447.5,648.28 L448.5,648.22 L449.5,648.17 L450.5,648.11 L451.5,648.06 L452.5,648.01 L453.5,647.97 L454.5,647.92 L455.5,647.88 L456.5,647.84 L457.5,647.80 L458.5,647.76 L459.5,647.73 L460.5,647.69 L461.5,647.66 L462.5,647.63 L463.5,647.60 L464.5,647.57 L465.5,647.54 L466.5,647.51 L467.5,647.48 L468.5,647.46 L469.5,647.43 L470.5,647.41 L471.5,647.39 L472.5,647.36 L473.5,647.34 L474.5,647.32 L475.5,647.30 L476.5,647.28 L477.5,647.26 L478.5,647.24 L479.5,647.23 L480.5,647.21 L481.5,647.19 L482.5,647.17 L483.5,647.16 L484.5,647.14 L485.5,647.13 L486.5,647.11 L487.5,647.10 L488.5,647.09 L489.5,647.07 L490.5,647.06 L491.5,647.05 L492.5,647.04 L493.5,647.02 L494.5,647.01 L495.5,647.00 L496.5,646.99 L497.5,646.98 L498.5,646.97 L499.5,646.96 L500.5,646.95 L501.5,646.94 L502.5,646.93 L503.5,646.92 L504.5,646.92 L505.5,646.91 L506.5,646.90 L507.5,646.89 L508.5,646.88 L509.5,646.88 L510.5,646.87 L511.5,646.86 L512.5,646.85 L513.5,646.85 L514.5,646.84 L515.5,646.84 L516.5,646.83 L517.5,646.82 L518.5,646.82 L519.5,646.81 L520.5,646.81 L521.5,646.80 L522.5,646.79 L523.5,646.79 L524.5,646.78 L525.5,646.78 L526.5,646.77 L527.5,646.77 L528.5,646.76 L529.5,646.76 L530.5,646.75 L531.5,646.75 L532.5,646.75 L533.5,646.74 L534.5,646.74 L535.5,646.73 L536.5,646.73 L537.5,646.72 L538.5,646.72 L539.5,646.72 L540.5,646.71 L541.5,646.71 L542.5,646.71 L543.5,646.70 L544.5,646.70 L545.5,646.69 L546.5,646.69 L547.5,646.69 L548.5,646.68 L549.5,646.68 L550.5,646.68 L551.5,646.67 L552.5,646.67 L553.5,646.67 L554.5,646.66 L555.5,646.66 L556.5,646.65 L557.5,646.65 L558.5,646.65 L559.5,646.64 L560.5,646.64 L561.5,646.64 L562.5,646.63 L563.5,646.63 L564.5,646.63 L565.5,646.62 L566.5,646.62 L567.5,646.62 L568.5,646.61 L569.5,646.61 L570.5,646.61 L571.5,646.61 L572.5,646.60 L573.5,646.60 L574.5,646.60 L575.5,646.59 L576.5,646.59 L577.5,646.59 L578.5,646.58 L579.5,646.58 L580.5,646.58 L581.5,646.57 L582.5,646.57 L583.5,646.57 L584.5,646.56 L585.5,646.56 L586.5,646.56 L587.5,646.55 L588.5,646.55 L589.5,646.55 L590.5,646.55 L591.5,646.54 L592.5,646.54 L593.5,646.54 L594.5,646.53 L595.5,646.53 L596.5,646.53 L597.5,646.52 L598.5,646.52 L599.5,646.52 L600.5,646.52 L601.5,646.51 L602.5,646.51 L603.5,646.51 L603.8,646.51" fill="none" stroke="#F39A0B" stroke-width="4.4" stroke-linejoin="round"/>
<path d="M107.5,643.24 L108.5,643.16 L109.5,643.07 L110.5,642.97 L111.5,642.88 L112.5,642.78 L113.5,642.68 L114.5,642.58 L115.5,642.48 L116.5,642.38 L117.5,642.28 L118.5,642.17 L119.5,642.07 L120.5,641.96 L121.5,641.85 L122.5,641.74 L123.5,641.62 L124.5,641.51 L125.5,641.39 L126.5,641.28 L127.5,641.16 L128.5,641.03 L129.5,640.91 L130.5,640.79 L131.5,640.66 L132.5,640.53 L133.5,640.40 L134.5,640.27 L135.5,640.13 L136.5,639.99 L137.5,639.86 L138.5,639.71 L139.5,639.57 L140.5,639.42 L141.5,639.28 L142.5,639.13 L143.5,638.97 L144.5,638.82 L145.5,638.66 L146.5,638.50 L147.5,638.33 L148.5,638.17 L149.5,638.00 L150.5,637.82 L151.5,637.65 L152.5,637.47 L153.5,637.28 L154.5,637.10 L155.5,636.91 L156.5,636.71 L157.5,636.52 L158.5,636.32 L159.5,636.11 L160.5,635.90 L161.5,635.69 L162.5,635.47 L163.5,635.25 L164.5,635.03 L165.5,634.80 L166.5,634.57 L167.5,634.34 L168.5,634.10 L169.5,633.86 L170.5,633.61 L171.5,633.37 L172.5,633.12 L173.5,632.86 L174.5,632.61 L175.5,632.35 L176.5,632.09 L177.5,631.82 L178.5,631.55 L179.5,631.28 L180.5,631.01 L181.5,630.73 L182.5,630.45 L183.5,630.17 L184.5,629.88 L185.5,629.59 L186.5,629.29 L187.5,628.99 L188.5,628.69 L189.5,628.38 L190.5,628.07 L191.5,627.75 L192.5,627.43 L193.5,627.10 L194.5,626.77 L195.5,626.43 L196.5,626.08 L197.5,625.73 L198.5,625.36 L199.5,624.99 L200.5,624.61 L201.5,624.22 L202.5,623.82 L203.5,623.41 L204.5,622.99 L205.5,622.55 L206.5,622.11 L207.5,621.65 L208.5,621.18 L209.5,620.69 L210.5,620.20 L211.5,619.69 L212.5,619.16 L213.5,618.62 L214.5,618.07 L215.5,617.50 L216.5,616.91 L217.5,616.31 L218.5,615.70 L219.5,615.06 L220.5,614.41 L221.5,613.75 L222.5,613.06 L223.5,612.36 L224.5,611.64 L225.5,610.91 L226.5,610.15 L227.5,609.37 L228.5,608.58 L229.5,607.76 L230.5,606.93 L231.5,606.07 L232.5,605.19 L233.5,604.30 L234.5,603.37 L235.5,602.43 L236.5,601.47 L237.5,600.48 L238.5,599.46 L239.5,598.43 L240.5,597.37 L241.5,596.28 L242.5,595.17 L243.5,594.03 L244.5,592.87 L245.5,591.68 L246.5,590.47 L247.5,589.23 L248.5,587.96 L249.5,586.66 L250.5,585.34 L251.5,583.99 L252.5,582.61 L253.5,581.20 L254.5,579.77 L255.5,578.30 L256.5,576.82 L257.5,575.30 L258.5,573.76 L259.5,572.19 L260.5,570.60 L261.5,568.99 L262.5,567.35 L263.5,565.70 L264.5,564.03 L265.5,562.35 L266.5,560.66 L267.5,558.96 L268.5,557.26 L269.5,555.57 L270.5,553.89 L271.5,552.23 L272.5,550.59 L273.5,548.99 L274.5,547.43 L275.5,545.92 L276.5,544.49 L277.5,543.13 L278.5,541.87 L279.5,540.71 L280.5,539.66 L281.5,538.75 L282.5,537.98 L283.5,537.37 L284.5,536.92 L285.5,536.63 L286.5,536.52 L287.5,536.59 L288.5,536.83 L289.5,537.25 L290.5,537.82 L291.5,538.56 L292.5,539.43 L293.5,540.44 L294.5,541.57 L295.5,542.80 L296.5,544.13 L297.5,545.54 L298.5,547.01 L299.5,548.54 L300.5,550.11 L301.5,551.71 L302.5,553.34 L303.5,554.99 L304.5,556.65 L305.5,558.31 L306.5,559.98 L307.5,561.63 L308.5,563.28 L309.5,564.91 L310.5,566.53 L311.5,568.13 L312.5,569.71 L313.5,571.26 L314.5,572.80 L315.5,574.31 L316.5,575.79 L317.5,577.25 L318.5,578.68 L319.5,580.09 L320.5,581.46 L321.5,582.82 L322.5,584.14 L323.5,585.44 L324.5,586.72 L325.5,587.96 L326.5,589.19 L327.5,590.38 L328.5,591.56 L329.5,592.70 L330.5,593.83 L331.5,594.93 L332.5,596.01 L333.5,597.07 L334.5,598.10 L335.5,599.12 L336.5,600.11 L337.5,601.08 L338.5,602.04 L339.5,602.97 L340.5,603.89 L341.5,604.79 L342.5,605.67 L343.5,606.53 L344.5,607.38 L345.5,608.21 L346.5,609.02 L347.5,609.82 L348.5,610.61 L349.5,611.38 L350.5,612.14 L351.5,612.88 L352.5,613.61 L353.5,614.33 L354.5,615.04 L355.5,615.74 L356.5,616.42 L357.5,617.09 L358.5,617.76 L359.5,618.41 L360.5,619.05 L361.5,619.68 L362.5,620.30 L363.5,620.91 L364.5,621.51 L365.5,622.10 L366.5,622.69 L367.5,623.26 L368.5,623.82 L369.5,624.38 L370.5,624.92 L371.5,625.46 L372.5,625.98 L373.5,626.50 L374.5,627.01 L375.5,627.51 L376.5,628.00 L377.5,628.48 L378.5,628.96 L379.5,629.42 L380.5,629.87 L381.5,630.32 L382.5,630.75 L383.5,631.18 L384.5,631.60 L385.5,632.00 L386.5,632.40 L387.5,632.79 L388.5,633.17 L389.5,633.54 L390.5,633.90 L391.5,634.25 L392.5,634.60 L393.5,634.93 L394.5,635.25 L395.5,635.57 L396.5,635.87 L397.5,636.17 L398.5,636.45 L399.5,636.73 L400.5,637.00 L401.5,637.26 L402.5,637.52 L403.5,637.77 L404.5,638.00 L405.5,638.24 L406.5,638.46 L407.5,638.68 L408.5,638.90 L409.5,639.10 L410.5,639.30 L411.5,639.50 L412.5,639.69 L413.5,639.88 L414.5,640.06 L415.5,640.23 L416.5,640.41 L417.5,640.57 L418.5,640.74 L419.5,640.90 L420.5,641.05 L421.5,641.21 L422.5,641.36 L423.5,641.50 L424.5,641.64 L425.5,641.78 L426.5,641.92 L427.5,642.06 L428.5,642.19 L429.5,642.31 L430.5,642.44 L431.5,642.56 L432.5,642.68 L433.5,642.80 L434.5,642.91 L435.5,643.03 L436.5,643.14 L437.5,643.24 L438.5,643.35 L439.5,643.45 L440.5,643.55 L441.5,643.65 L442.5,643.75 L443.5,643.84 L444.5,643.94 L445.5,644.03 L446.5,644.12 L447.5,644.20 L448.5,644.29 L449.5,644.37 L450.5,644.45 L451.5,644.53 L452.5,644.61 L453.5,644.68 L454.5,644.76 L455.5,644.83 L456.5,644.90 L457.5,644.96 L458.5,645.03 L459.5,645.09 L460.5,645.15 L461.5,645.21 L462.5,645.27 L463.5,645.33 L464.5,645.38 L465.5,645.44 L466.5,645.49 L467.5,645.54 L468.5,645.58 L469.5,645.63 L470.5,645.67 L471.5,645.71 L472.5,645.75 L473.5,645.79 L474.5,645.83 L475.5,645.87 L476.5,645.90 L477.5,645.93 L478.5,645.96 L479.5,645.99 L480.5,646.02 L481.5,646.05 L482.5,646.07 L483.5,646.10 L484.5,646.12 L485.5,646.14 L486.5,646.17 L487.5,646.19 L488.5,646.21 L489.5,646.22 L490.5,646.24 L491.5,646.26 L492.5,646.27 L493.5,646.29 L494.5,646.30 L495.5,646.31 L496.5,646.32 L497.5,646.34 L498.5,646.35 L499.5,646.36 L500.5,646.36 L501.5,646.37 L502.5,646.38 L503.5,646.39 L504.5,646.40 L505.5,646.40 L506.5,646.41 L507.5,646.41 L508.5,646.42 L509.5,646.42 L510.5,646.43 L511.5,646.43 L512.5,646.43 L513.5,646.44 L514.5,646.44 L515.5,646.44 L516.5,646.44 L517.5,646.45 L518.5,646.45 L519.5,646.45 L520.5,646.45 L521.5,646.45 L522.5,646.46 L523.5,646.46 L524.5,646.46 L525.5,646.46 L526.5,646.46 L527.5,646.46 L528.5,646.46 L529.5,646.46 L530.5,646.47 L531.5,646.47 L532.5,646.47 L533.5,646.47 L534.5,646.47 L535.5,646.47 L536.5,646.47 L537.5,646.47 L538.5,646.47 L539.5,646.47 L540.5,646.47 L541.5,646.47 L542.5,646.47 L543.5,646.47 L544.5,646.47 L545.5,646.47 L546.5,646.47 L547.5,646.47 L548.5,646.48 L549.5,646.48 L550.5,646.48 L551.5,646.48 L552.5,646.48 L553.5,646.48 L554.5,646.48 L555.5,646.48 L556.5,646.48 L557.5,646.48 L558.5,646.48 L559.5,646.48 L560.5,646.48 L561.5,646.48 L562.5,646.48 L563.5,646.48 L564.5,646.48 L565.5,646.48 L566.5,646.48 L567.5,646.48 L568.5,646.48 L569.5,646.48 L570.5,646.48 L571.5,646.48 L572.5,646.48 L573.5,646.48 L574.5,646.48 L575.5,646.48 L576.5,646.48 L577.5,646.49 L578.5,646.49 L579.5,646.49 L580.5,646.49 L581.5,646.49 L582.5,646.49 L583.5,646.49 L584.5,646.49 L585.5,646.49 L586.5,646.49 L587.5,646.49 L588.5,646.49 L589.5,646.49 L590.5,646.49 L591.5,646.49 L592.5,646.49 L593.5,646.49 L594.5,646.49 L595.5,646.49 L596.5,646.49 L597.5,646.49 L598.5,646.49 L599.5,646.49 L600.5,646.49 L601.5,646.49 L602.5,646.49 L603.5,646.49 L603.8,646.49" fill="none" stroke="#F39A0B" stroke-width="4.4" stroke-linejoin="round"/>
<path d="M107.5,648.05 L108.5,648.10 L109.5,648.16 L110.5,648.22 L111.5,648.28 L112.5,648.35 L113.5,648.41 L114.5,648.47 L115.5,648.54 L116.5,648.60 L117.5,648.66 L118.5,648.73 L119.5,648.80 L120.5,648.86 L121.5,648.93 L122.5,649.00 L123.5,649.06 L124.5,649.13 L125.5,649.20 L126.5,649.27 L127.5,649.34 L128.5,649.40 L129.5,649.47 L130.5,649.54 L131.5,649.61 L132.5,649.68 L133.5,649.75 L134.5,649.83 L135.5,649.90 L136.5,649.97 L137.5,650.04 L138.5,650.11 L139.5,650.18 L140.5,650.26 L141.5,650.33 L142.5,650.40 L143.5,650.47 L144.5,650.55 L145.5,650.62 L146.5,650.69 L147.5,650.77 L148.5,650.84 L149.5,650.91 L150.5,650.99 L151.5,651.06 L152.5,651.14 L153.5,651.21 L154.5,651.29 L155.5,651.36 L156.5,651.44 L157.5,651.51 L158.5,651.59 L159.5,651.67 L160.5,651.74 L161.5,651.82 L162.5,651.90 L163.5,651.97 L164.5,652.05 L165.5,652.13 L166.5,652.21 L167.5,652.29 L168.5,652.37 L169.5,652.45 L170.5,652.53 L171.5,652.61 L172.5,652.69 L173.5,652.77 L174.5,652.85 L175.5,652.94 L176.5,653.02 L177.5,653.11 L178.5,653.19 L179.5,653.28 L180.5,653.37 L181.5,653.46 L182.5,653.55 L183.5,653.64 L184.5,653.73 L185.5,653.83 L186.5,653.92 L187.5,654.02 L188.5,654.12 L189.5,654.22 L190.5,654.32 L191.5,654.43 L192.5,654.54 L193.5,654.66 L194.5,654.77 L195.5,654.90 L196.5,655.03 L197.5,655.16 L198.5,655.31 L199.5,655.45 L200.5,655.61 L201.5,655.77 L202.5,655.94 L203.5,656.12 L204.5,656.30 L205.5,656.50 L206.5,656.70 L207.5,656.90 L208.5,657.12 L209.5,657.34 L210.5,657.57 L211.5,657.81 L212.5,658.06 L213.5,658.31 L214.5,658.58 L215.5,658.85 L216.5,659.13 L217.5,659.42 L218.5,659.72 L219.5,660.03 L220.5,660.35 L221.5,660.67 L222.5,661.01 L223.5,661.36 L224.5,661.71 L225.5,662.08 L226.5,662.46 L227.5,662.84 L228.5,663.24 L229.5,663.64 L230.5,664.05 L231.5,664.48 L232.5,664.91 L233.5,665.35 L234.5,665.80 L235.5,666.25 L236.5,666.72 L237.5,667.20 L238.5,667.68 L239.5,668.18 L240.5,668.68 L241.5,669.19 L242.5,669.71 L243.5,670.24 L244.5,670.78 L245.5,671.33 L246.5,671.89 L247.5,672.46 L248.5,673.03 L249.5,673.62 L250.5,674.22 L251.5,674.83 L252.5,675.45 L253.5,676.08 L254.5,676.72 L255.5,677.38 L256.5,678.04 L257.5,678.72 L258.5,679.42 L259.5,680.12 L260.5,680.84 L261.5,681.57 L262.5,682.32 L263.5,683.08 L264.5,683.86 L265.5,684.66 L266.5,685.47 L267.5,686.31 L268.5,687.16 L269.5,688.03 L270.5,688.92 L271.5,689.83 L272.5,690.76 L273.5,691.71 L274.5,692.69 L275.5,693.70 L276.5,694.72 L277.5,695.77 L278.5,696.85 L279.5,697.95 L280.5,699.07 L281.5,700.23 L282.5,701.41 L283.5,702.61 L284.5,703.85 L285.5,705.11 L286.5,706.40 L287.5,707.72 L288.5,709.07 L289.5,710.45 L290.5,711.87 L291.5,713.31 L292.5,714.78 L293.5,716.29 L294.5,717.82 L295.5,719.39 L296.5,720.98 L297.5,722.61 L298.5,724.26 L299.5,725.94 L300.5,727.64 L301.5,729.36 L302.5,731.11 L303.5,732.87 L304.5,734.65 L305.5,736.45 L306.5,738.25 L307.5,740.05 L308.5,741.86 L309.5,743.65 L310.5,745.43 L311.5,747.19 L312.5,748.91 L313.5,750.59 L314.5,752.21 L315.5,753.77 L316.5,755.24 L317.5,756.61 L318.5,757.86 L319.5,758.99 L320.5,759.97 L321.5,760.79 L322.5,761.44 L323.5,761.90 L324.5,762.17 L325.5,762.24 L326.5,762.11 L327.5,761.79 L328.5,761.27 L329.5,760.57 L330.5,759.69 L331.5,758.66 L332.5,757.48 L333.5,756.17 L334.5,754.75 L335.5,753.24 L336.5,751.64 L337.5,749.97 L338.5,748.25 L339.5,746.49 L340.5,744.69 L341.5,742.88 L342.5,741.05 L343.5,739.22 L344.5,737.38 L345.5,735.56 L346.5,733.75 L347.5,731.95 L348.5,730.17 L349.5,728.41 L350.5,726.68 L351.5,724.97 L352.5,723.29 L353.5,721.64 L354.5,720.01 L355.5,718.42 L356.5,716.85 L357.5,715.32 L358.5,713.81 L359.5,712.34 L360.5,710.89 L361.5,709.48 L362.5,708.09 L363.5,706.73 L364.5,705.40 L365.5,704.10 L366.5,702.82 L367.5,701.57 L368.5,700.35 L369.5,699.15 L370.5,697.98 L371.5,696.83 L372.5,695.70 L373.5,694.60 L374.5,693.52 L375.5,692.46 L376.5,691.43 L377.5,690.42 L378.5,689.42 L379.5,688.45 L380.5,687.50 L381.5,686.57 L382.5,685.66 L383.5,684.77 L384.5,683.90 L385.5,683.05 L386.5,682.22 L387.5,681.40 L388.5,680.60 L389.5,679.82 L390.5,679.06 L391.5,678.31 L392.5,677.58 L393.5,676.87 L394.5,676.17 L395.5,675.49 L396.5,674.82 L397.5,674.17 L398.5,673.53 L399.5,672.91 L400.5,672.30 L401.5,671.71 L402.5,671.12 L403.5,670.55 L404.5,669.99 L405.5,669.45 L406.5,668.91 L407.5,668.38 L408.5,667.87 L409.5,667.36 L410.5,666.87 L411.5,666.38 L412.5,665.91 L413.5,665.44 L414.5,664.99 L415.5,664.54 L416.5,664.10 L417.5,663.66 L418.5,663.24 L419.5,662.82 L420.5,662.42 L421.5,662.01 L422.5,661.62 L423.5,661.23 L424.5,660.85 L425.5,660.48 L426.5,660.12 L427.5,659.76 L428.5,659.41 L429.5,659.07 L430.5,658.73 L431.5,658.40 L432.5,658.08 L433.5,657.77 L434.5,657.46 L435.5,657.16 L436.5,656.87 L437.5,656.58 L438.5,656.31 L439.5,656.04 L440.5,655.77 L441.5,655.51 L442.5,655.26 L443.5,655.02 L444.5,654.78 L445.5,654.55 L446.5,654.32 L447.5,654.11 L448.5,653.89 L449.5,653.68 L450.5,653.48 L451.5,653.29 L452.5,653.09 L453.5,652.91 L454.5,652.73 L455.5,652.55 L456.5,652.38 L457.5,652.21 L458.5,652.05 L459.5,651.89 L460.5,651.74 L461.5,651.59 L462.5,651.45 L463.5,651.31 L464.5,651.17 L465.5,651.04 L466.5,650.91 L467.5,650.79 L468.5,650.66 L469.5,650.55 L470.5,650.43 L471.5,650.32 L472.5,650.21 L473.5,650.11 L474.5,650.00 L475.5,649.90 L476.5,649.81 L477.5,649.71 L478.5,649.62 L479.5,649.53 L480.5,649.45 L481.5,649.36 L482.5,649.28 L483.5,649.20 L484.5,649.12 L485.5,649.05 L486.5,648.97 L487.5,648.90 L488.5,648.83 L489.5,648.76 L490.5,648.69 L491.5,648.63 L492.5,648.57 L493.5,648.50 L494.5,648.44 L495.5,648.38 L496.5,648.33 L497.5,648.27 L498.5,648.21 L499.5,648.16 L500.5,648.11 L501.5,648.06 L502.5,648.01 L503.5,647.96 L504.5,647.91 L505.5,647.86 L506.5,647.82 L507.5,647.77 L508.5,647.73 L509.5,647.69 L510.5,647.65 L511.5,647.61 L512.5,647.57 L513.5,647.53 L514.5,647.49 L515.5,647.46 L516.5,647.42 L517.5,647.39 L518.5,647.35 L519.5,647.32 L520.5,647.29 L521.5,647.26 L522.5,647.23 L523.5,647.20 L524.5,647.17 L525.5,647.14 L526.5,647.12 L527.5,647.09 L528.5,647.07 L529.5,647.04 L530.5,647.02 L531.5,647.00 L532.5,646.97 L533.5,646.95 L534.5,646.93 L535.5,646.91 L536.5,646.89 L537.5,646.87 L538.5,646.86 L539.5,646.84 L540.5,646.82 L541.5,646.80 L542.5,646.79 L543.5,646.77 L544.5,646.76 L545.5,646.75 L546.5,646.73 L547.5,646.72 L548.5,646.71 L549.5,646.69 L550.5,646.68 L551.5,646.67 L552.5,646.66 L553.5,646.65 L554.5,646.64 L555.5,646.63 L556.5,646.62 L557.5,646.61 L558.5,646.60 L559.5,646.60 L560.5,646.59 L561.5,646.58 L562.5,646.58 L563.5,646.57 L564.5,646.56 L565.5,646.56 L566.5,646.55 L567.5,646.55 L568.5,646.54 L569.5,646.54 L570.5,646.53 L571.5,646.53 L572.5,646.52 L573.5,646.52 L574.5,646.52 L575.5,646.51 L576.5,646.51 L577.5,646.51 L578.5,646.50 L579.5,646.50 L580.5,646.50 L581.5,646.50 L582.5,646.50 L583.5,646.49 L584.5,646.49 L585.5,646.49 L586.5,646.49 L587.5,646.49 L588.5,646.49 L589.5,646.49 L590.5,646.49 L591.5,646.49 L592.5,646.49 L593.5,646.49 L594.5,646.49 L595.5,646.49 L596.5,646.49 L597.5,646.49 L598.5,646.49 L599.5,646.49 L600.5,646.49 L601.5,646.49 L602.5,646.49 L603.5,646.49 L603.8,646.49" fill="none" stroke="#EA5B0C" stroke-width="4.4" stroke-linejoin="round"/>
<path d="M107.5,645.08 L108.5,645.05 L109.5,645.04 L110.5,645.03 L111.5,645.01 L112.5,645.00 L113.5,644.98 L114.5,644.97 L115.5,644.95 L116.5,644.93 L117.5,644.91 L118.5,644.89 L119.5,644.87 L120.5,644.85 L121.5,644.83 L122.5,644.81 L123.5,644.79 L124.5,644.76 L125.5,644.74 L126.5,644.71 L127.5,644.68 L128.5,644.65 L129.5,644.62 L130.5,644.59 L131.5,644.56 L132.5,644.53 L133.5,644.49 L134.5,644.46 L135.5,644.42 L136.5,644.38 L137.5,644.35 L138.5,644.30 L139.5,644.26 L140.5,644.22 L141.5,644.17 L142.5,644.13 L143.5,644.08 L144.5,644.03 L145.5,643.98 L146.5,643.93 L147.5,643.87 L148.5,643.82 L149.5,643.76 L150.5,643.70 L151.5,643.64 L152.5,643.57 L153.5,643.51 L154.5,643.44 L155.5,643.37 L156.5,643.30 L157.5,643.23 L158.5,643.15 L159.5,643.07 L160.5,642.99 L161.5,642.91 L162.5,642.82 L163.5,642.73 L164.5,642.64 L165.5,642.55 L166.5,642.45 L167.5,642.36 L168.5,642.25 L169.5,642.15 L170.5,642.04 L171.5,641.93 L172.5,641.82 L173.5,641.70 L174.5,641.58 L175.5,641.46 L176.5,641.33 L177.5,641.20 L178.5,641.07 L179.5,640.94 L180.5,640.80 L181.5,640.66 L182.5,640.51 L183.5,640.37 L184.5,640.22 L185.5,640.07 L186.5,639.91 L187.5,639.76 L188.5,639.60 L189.5,639.44 L190.5,639.27 L191.5,639.11 L192.5,638.94 L193.5,638.77 L194.5,638.59 L195.5,638.42 L196.5,638.24 L197.5,638.06 L198.5,637.87 L199.5,637.69 L200.5,637.50 L201.5,637.31 L202.5,637.12 L203.5,636.92 L204.5,636.72 L205.5,636.52 L206.5,636.32 L207.5,636.11 L208.5,635.91 L209.5,635.69 L210.5,635.48 L211.5,635.26 L212.5,635.04 L213.5,634.82 L214.5,634.59 L215.5,634.36 L216.5,634.13 L217.5,633.89 L218.5,633.64 L219.5,633.40 L220.5,633.14 L221.5,632.89 L222.5,632.62 L223.5,632.36 L224.5,632.08 L225.5,631.80 L226.5,631.52 L227.5,631.22 L228.5,630.92 L229.5,630.62 L230.5,630.30 L231.5,629.98 L232.5,629.65 L233.5,629.31 L234.5,628.96 L235.5,628.60 L236.5,628.24 L237.5,627.86 L238.5,627.47 L239.5,627.07 L240.5,626.67 L241.5,626.25 L242.5,625.81 L243.5,625.37 L244.5,624.92 L245.5,624.45 L246.5,623.97 L247.5,623.47 L248.5,622.97 L249.5,622.45 L250.5,621.91 L251.5,621.36 L252.5,620.80 L253.5,620.22 L254.5,619.62 L255.5,619.01 L256.5,618.38 L257.5,617.74 L258.5,617.08 L259.5,616.40 L260.5,615.70 L261.5,614.98 L262.5,614.25 L263.5,613.49 L264.5,612.72 L265.5,611.93 L266.5,611.11 L267.5,610.27 L268.5,609.42 L269.5,608.54 L270.5,607.64 L271.5,606.72 L272.5,605.77 L273.5,604.81 L274.5,603.81 L275.5,602.80 L276.5,601.76 L277.5,600.70 L278.5,599.61 L279.5,598.49 L280.5,597.35 L281.5,596.19 L282.5,594.99 L283.5,593.78 L284.5,592.53 L285.5,591.25 L286.5,589.95 L287.5,588.62 L288.5,587.26 L289.5,585.87 L290.5,584.46 L291.5,583.01 L292.5,581.54 L293.5,580.03 L294.5,578.50 L295.5,576.94 L296.5,575.35 L297.5,573.73 L298.5,572.09 L299.5,570.42 L300.5,568.72 L301.5,567.01 L302.5,565.27 L303.5,563.52 L304.5,561.75 L305.5,559.96 L306.5,558.16 L307.5,556.35 L308.5,554.54 L309.5,552.73 L310.5,550.92 L311.5,549.13 L312.5,547.36 L313.5,545.62 L314.5,543.92 L315.5,542.28 L316.5,540.71 L317.5,539.21 L318.5,537.82 L319.5,536.53 L320.5,535.38 L321.5,534.37 L322.5,533.52 L323.5,532.85 L324.5,532.36 L325.5,532.06 L326.5,531.97 L327.5,532.08 L328.5,532.39 L329.5,532.90 L330.5,533.60 L331.5,534.48 L332.5,535.52 L333.5,536.72 L334.5,538.05 L335.5,539.50 L336.5,541.06 L337.5,542.70 L338.5,544.41 L339.5,546.19 L340.5,548.00 L341.5,549.86 L342.5,551.74 L343.5,553.63 L344.5,555.53 L345.5,557.43 L346.5,559.32 L347.5,561.21 L348.5,563.07 L349.5,564.92 L350.5,566.74 L351.5,568.54 L352.5,570.31 L353.5,572.05 L354.5,573.76 L355.5,575.44 L356.5,577.08 L357.5,578.69 L358.5,580.27 L359.5,581.81 L360.5,583.32 L361.5,584.80 L362.5,586.24 L363.5,587.65 L364.5,589.02 L365.5,590.36 L366.5,591.66 L367.5,592.93 L368.5,594.17 L369.5,595.38 L370.5,596.56 L371.5,597.70 L372.5,598.82 L373.5,599.91 L374.5,600.96 L375.5,601.99 L376.5,602.99 L377.5,603.97 L378.5,604.91 L379.5,605.84 L380.5,606.73 L381.5,607.60 L382.5,608.45 L383.5,609.27 L384.5,610.07 L385.5,610.86 L386.5,611.62 L387.5,612.36 L388.5,613.08 L389.5,613.79 L390.5,614.48 L391.5,615.15 L392.5,615.81 L393.5,616.46 L394.5,617.09 L395.5,617.71 L396.5,618.32 L397.5,618.91 L398.5,619.50 L399.5,620.07 L400.5,620.63 L401.5,621.18 L402.5,621.72 L403.5,622.26 L404.5,622.78 L405.5,623.29 L406.5,623.79 L407.5,624.29 L408.5,624.78 L409.5,625.26 L410.5,625.73 L411.5,626.19 L412.5,626.64 L413.5,627.09 L414.5,627.53 L415.5,627.96 L416.5,628.38 L417.5,628.80 L418.5,629.20 L419.5,629.61 L420.5,630.00 L421.5,630.39 L422.5,630.77 L423.5,631.15 L424.5,631.51 L425.5,631.88 L426.5,632.23 L427.5,632.58 L428.5,632.92 L429.5,633.26 L430.5,633.59 L431.5,633.91 L432.5,634.23 L433.5,634.54 L434.5,634.84 L435.5,635.14 L436.5,635.44 L437.5,635.72 L438.5,636.01 L439.5,636.28 L440.5,636.55 L441.5,636.81 L442.5,637.07 L443.5,637.32 L444.5,637.57 L445.5,637.81 L446.5,638.05 L447.5,638.28 L448.5,638.51 L449.5,638.73 L450.5,638.95 L451.5,639.16 L452.5,639.36 L453.5,639.57 L454.5,639.76 L455.5,639.96 L456.5,640.15 L457.5,640.33 L458.5,640.51 L459.5,640.69 L460.5,640.86 L461.5,641.03 L462.5,641.19 L463.5,641.35 L464.5,641.51 L465.5,641.66 L466.5,641.81 L467.5,641.95 L468.5,642.09 L469.5,642.23 L470.5,642.36 L471.5,642.50 L472.5,642.62 L473.5,642.75 L474.5,642.87 L475.5,642.99 L476.5,643.10 L477.5,643.21 L478.5,643.32 L479.5,643.43 L480.5,643.53 L481.5,643.63 L482.5,643.73 L483.5,643.82 L484.5,643.92 L485.5,644.01 L486.5,644.09 L487.5,644.18 L488.5,644.26 L489.5,644.34 L490.5,644.42 L491.5,644.50 L492.5,644.57 L493.5,644.64 L494.5,644.71 L495.5,644.78 L496.5,644.85 L497.5,644.91 L498.5,644.97 L499.5,645.04 L500.5,645.09 L501.5,645.15 L502.5,645.21 L503.5,645.26 L504.5,645.31 L505.5,645.36 L506.5,645.41 L507.5,645.46 L508.5,645.51 L509.5,645.55 L510.5,645.59 L511.5,645.64 L512.5,645.68 L513.5,645.72 L514.5,645.75 L515.5,645.79 L516.5,645.83 L517.5,645.86 L518.5,645.90 L519.5,645.93 L520.5,645.96 L521.5,645.99 L522.5,646.02 L523.5,646.05 L524.5,646.07 L525.5,646.10 L526.5,646.13 L527.5,646.15 L528.5,646.17 L529.5,646.20 L530.5,646.22 L531.5,646.24 L532.5,646.26 L533.5,646.28 L534.5,646.30 L535.5,646.32 L536.5,646.33 L537.5,646.35 L538.5,646.37 L539.5,646.38 L540.5,646.40 L541.5,646.41 L542.5,646.42 L543.5,646.44 L544.5,646.45 L545.5,646.46 L546.5,646.47 L547.5,646.48 L548.5,646.49 L549.5,646.50 L550.5,646.51 L551.5,646.52 L552.5,646.53 L553.5,646.53 L554.5,646.54 L555.5,646.55 L556.5,646.55 L557.5,646.56 L558.5,646.56 L559.5,646.57 L560.5,646.57 L561.5,646.58 L562.5,646.58 L563.5,646.58 L564.5,646.59 L565.5,646.59 L566.5,646.59 L567.5,646.59 L568.5,646.60 L569.5,646.60 L570.5,646.60 L571.5,646.60 L572.5,646.60 L573.5,646.60 L574.5,646.60 L575.5,646.60 L576.5,646.60 L577.5,646.60 L578.5,646.60 L579.5,646.59 L580.5,646.59 L581.5,646.59 L582.5,646.59 L583.5,646.59 L584.5,646.58 L585.5,646.58 L586.5,646.58 L587.5,646.58 L588.5,646.57 L589.5,646.57 L590.5,646.57 L591.5,646.56 L592.5,646.56 L593.5,646.56 L594.5,646.55 L595.5,646.55 L596.5,646.54 L597.5,646.54 L598.5,646.53 L599.5,646.53 L600.5,646.52 L601.5,646.52 L602.5,646.51 L603.5,646.51 L603.8,646.51" fill="none" stroke="#EA5B0C" stroke-width="4.4" stroke-linejoin="round"/>
<path d="M107.5,647.29 L108.5,647.29 L109.5,647.28 L110.5,647.27 L111.5,647.27 L112.5,647.26 L113.5,647.26 L114.5,647.25 L115.5,647.25 L116.5,647.24 L117.5,647.24 L118.5,647.23 L119.5,647.23 L120.5,647.23 L121.5,647.22 L122.5,647.22 L123.5,647.22 L124.5,647.21 L125.5,647.21 L126.5,647.21 L127.5,647.21 L128.5,647.21 L129.5,647.21 L130.5,647.21 L131.5,647.21 L132.5,647.21 L133.5,647.21 L134.5,647.22 L135.5,647.22 L136.5,647.22 L137.5,647.22 L138.5,647.23 L139.5,647.23 L140.5,647.24 L141.5,647.25 L142.5,647.25 L143.5,647.26 L144.5,647.27 L145.5,647.28 L146.5,647.28 L147.5,647.29 L148.5,647.30 L149.5,647.32 L150.5,647.33 L151.5,647.34 L152.5,647.35 L153.5,647.37 L154.5,647.38 L155.5,647.40 L156.5,647.42 L157.5,647.43 L158.5,647.45 L159.5,647.47 L160.5,647.49 L161.5,647.52 L162.5,647.54 L163.5,647.56 L164.5,647.59 L165.5,647.61 L166.5,647.64 L167.5,647.67 L168.5,647.70 L169.5,647.73 L170.5,647.76 L171.5,647.79 L172.5,647.83 L173.5,647.86 L174.5,647.90 L175.5,647.94 L176.5,647.98 L177.5,648.02 L178.5,648.06 L179.5,648.11 L180.5,648.15 L181.5,648.20 L182.5,648.25 L183.5,648.30 L184.5,648.35 L185.5,648.41 L186.5,648.47 L187.5,648.52 L188.5,648.58 L189.5,648.65 L190.5,648.71 L191.5,648.78 L192.5,648.84 L193.5,648.91 L194.5,648.99 L195.5,649.06 L196.5,649.14 L197.5,649.22 L198.5,649.30 L199.5,649.38 L200.5,649.47 L201.5,649.56 L202.5,649.65 L203.5,649.74 L204.5,649.84 L205.5,649.94 L206.5,650.04 L207.5,650.15 L208.5,650.26 L209.5,650.37 L210.5,650.48 L211.5,650.60 L212.5,650.73 L213.5,650.85 L214.5,650.98 L215.5,651.12 L216.5,651.26 L217.5,651.40 L218.5,651.55 L219.5,651.70 L220.5,651.86 L221.5,652.02 L222.5,652.19 L223.5,652.36 L224.5,652.54 L225.5,652.73 L226.5,652.91 L227.5,653.11 L228.5,653.31 L229.5,653.51 L230.5,653.72 L231.5,653.93 L232.5,654.15 L233.5,654.37 L234.5,654.60 L235.5,654.83 L236.5,655.07 L237.5,655.31 L238.5,655.56 L239.5,655.81 L240.5,656.06 L241.5,656.32 L242.5,656.58 L243.5,656.85 L244.5,657.12 L245.5,657.39 L246.5,657.67 L247.5,657.94 L248.5,658.22 L249.5,658.50 L250.5,658.79 L251.5,659.07 L252.5,659.36 L253.5,659.64 L254.5,659.93 L255.5,660.22 L256.5,660.51 L257.5,660.81 L258.5,661.10 L259.5,661.40 L260.5,661.71 L261.5,662.01 L262.5,662.33 L263.5,662.65 L264.5,662.97 L265.5,663.30 L266.5,663.64 L267.5,663.98 L268.5,664.34 L269.5,664.70 L270.5,665.07 L271.5,665.45 L272.5,665.84 L273.5,666.25 L274.5,666.66 L275.5,667.09 L276.5,667.53 L277.5,667.97 L278.5,668.44 L279.5,668.91 L280.5,669.40 L281.5,669.89 L282.5,670.40 L283.5,670.93 L284.5,671.47 L285.5,672.02 L286.5,672.58 L287.5,673.16 L288.5,673.75 L289.5,674.35 L290.5,674.97 L291.5,675.60 L292.5,676.25 L293.5,676.91 L294.5,677.59 L295.5,678.28 L296.5,678.99 L297.5,679.71 L298.5,680.45 L299.5,681.20 L300.5,681.97 L301.5,682.76 L302.5,683.57 L303.5,684.39 L304.5,685.23 L305.5,686.09 L306.5,686.97 L307.5,687.87 L308.5,688.79 L309.5,689.73 L310.5,690.68 L311.5,691.66 L312.5,692.66 L313.5,693.67 L314.5,694.71 L315.5,695.77 L316.5,696.85 L317.5,697.96 L318.5,699.08 L319.5,700.23 L320.5,701.40 L321.5,702.59 L322.5,703.80 L323.5,705.04 L324.5,706.30 L325.5,707.59 L326.5,708.90 L327.5,710.24 L328.5,711.60 L329.5,712.98 L330.5,714.40 L331.5,715.83 L332.5,717.29 L333.5,718.78 L334.5,720.29 L335.5,721.83 L336.5,723.39 L337.5,724.98 L338.5,726.59 L339.5,728.22 L340.5,729.88 L341.5,731.55 L342.5,733.25 L343.5,734.95 L344.5,736.68 L345.5,738.41 L346.5,740.15 L347.5,741.89 L348.5,743.62 L349.5,745.35 L350.5,747.05 L351.5,748.73 L352.5,750.37 L353.5,751.97 L354.5,753.51 L355.5,754.97 L356.5,756.35 L357.5,757.63 L358.5,758.79 L359.5,759.83 L360.5,760.72 L361.5,761.44 L362.5,762.00 L363.5,762.38 L364.5,762.57 L365.5,762.56 L366.5,762.36 L367.5,761.96 L368.5,761.38 L369.5,760.62 L370.5,759.69 L371.5,758.61 L372.5,757.39 L373.5,756.04 L374.5,754.59 L375.5,753.04 L376.5,751.41 L377.5,749.72 L378.5,747.97 L379.5,746.18 L380.5,744.37 L381.5,742.53 L382.5,740.67 L383.5,738.81 L384.5,736.95 L385.5,735.09 L386.5,733.24 L387.5,731.40 L388.5,729.57 L389.5,727.76 L390.5,725.97 L391.5,724.21 L392.5,722.46 L393.5,720.74 L394.5,719.05 L395.5,717.38 L396.5,715.74 L397.5,714.13 L398.5,712.54 L399.5,710.99 L400.5,709.47 L401.5,707.98 L402.5,706.52 L403.5,705.10 L404.5,703.71 L405.5,702.35 L406.5,701.02 L407.5,699.73 L408.5,698.47 L409.5,697.23 L410.5,696.03 L411.5,694.85 L412.5,693.71 L413.5,692.59 L414.5,691.50 L415.5,690.43 L416.5,689.39 L417.5,688.38 L418.5,687.39 L419.5,686.42 L420.5,685.48 L421.5,684.55 L422.5,683.65 L423.5,682.78 L424.5,681.92 L425.5,681.08 L426.5,680.26 L427.5,679.46 L428.5,678.68 L429.5,677.92 L430.5,677.18 L431.5,676.45 L432.5,675.74 L433.5,675.04 L434.5,674.37 L435.5,673.70 L436.5,673.05 L437.5,672.42 L438.5,671.80 L439.5,671.19 L440.5,670.59 L441.5,670.01 L442.5,669.44 L443.5,668.88 L444.5,668.34 L445.5,667.81 L446.5,667.28 L447.5,666.77 L448.5,666.27 L449.5,665.79 L450.5,665.31 L451.5,664.84 L452.5,664.38 L453.5,663.94 L454.5,663.50 L455.5,663.07 L456.5,662.66 L457.5,662.25 L458.5,661.85 L459.5,661.46 L460.5,661.08 L461.5,660.71 L462.5,660.35 L463.5,659.99 L464.5,659.64 L465.5,659.30 L466.5,658.97 L467.5,658.65 L468.5,658.33 L469.5,658.02 L470.5,657.72 L471.5,657.42 L472.5,657.14 L473.5,656.85 L474.5,656.58 L475.5,656.31 L476.5,656.05 L477.5,655.79 L478.5,655.54 L479.5,655.30 L480.5,655.06 L481.5,654.83 L482.5,654.60 L483.5,654.38 L484.5,654.17 L485.5,653.96 L486.5,653.75 L487.5,653.55 L488.5,653.36 L489.5,653.17 L490.5,652.99 L491.5,652.81 L492.5,652.64 L493.5,652.47 L494.5,652.31 L495.5,652.15 L496.5,651.99 L497.5,651.84 L498.5,651.69 L499.5,651.55 L500.5,651.40 L501.5,651.27 L502.5,651.13 L503.5,651.00 L504.5,650.87 L505.5,650.74 L506.5,650.62 L507.5,650.49 L508.5,650.37 L509.5,650.25 L510.5,650.14 L511.5,650.03 L512.5,649.92 L513.5,649.81 L514.5,649.70 L515.5,649.59 L516.5,649.49 L517.5,649.39 L518.5,649.29 L519.5,649.19 L520.5,649.10 L521.5,649.00 L522.5,648.91 L523.5,648.82 L524.5,648.73 L525.5,648.65 L526.5,648.56 L527.5,648.48 L528.5,648.40 L529.5,648.32 L530.5,648.25 L531.5,648.17 L532.5,648.10 L533.5,648.03 L534.5,647.96 L535.5,647.90 L536.5,647.83 L537.5,647.77 L538.5,647.71 L539.5,647.66 L540.5,647.60 L541.5,647.55 L542.5,647.50 L543.5,647.45 L544.5,647.41 L545.5,647.36 L546.5,647.32 L547.5,647.28 L548.5,647.24 L549.5,647.21 L550.5,647.17 L551.5,647.14 L552.5,647.11 L553.5,647.08 L554.5,647.05 L555.5,647.02 L556.5,647.00 L557.5,646.97 L558.5,646.95 L559.5,646.93 L560.5,646.91 L561.5,646.89 L562.5,646.87 L563.5,646.86 L564.5,646.84 L565.5,646.83 L566.5,646.82 L567.5,646.81 L568.5,646.80 L569.5,646.79 L570.5,646.78 L571.5,646.78 L572.5,646.77 L573.5,646.77 L574.5,646.76 L575.5,646.76 L576.5,646.76 L577.5,646.76 L578.5,646.76 L579.5,646.76 L580.5,646.76 L581.5,646.76 L582.5,646.76 L583.5,646.77 L584.5,646.77 L585.5,646.78 L586.5,646.78 L587.5,646.79 L588.5,646.80 L589.5,646.80 L590.5,646.81 L591.5,646.82 L592.5,646.83 L593.5,646.84 L594.5,646.85 L595.5,646.86 L596.5,646.87 L597.5,646.88 L598.5,646.89 L599.5,646.90 L600.5,646.91 L601.5,646.93 L602.5,646.94 L603.5,646.95 L603.8,646.95" fill="none" stroke="#E30613" stroke-width="4.4" stroke-linejoin="round"/>
<path d="M107.5,646.22 L108.5,646.21 L109.5,646.22 L110.5,646.22 L111.5,646.22 L112.5,646.23 L113.5,646.23 L114.5,646.23 L115.5,646.23 L116.5,646.23 L117.5,646.23 L118.5,646.23 L119.5,646.23 L120.5,646.23 L121.5,646.23 L122.5,646.23 L123.5,646.23 L124.5,646.23 L125.5,646.23 L126.5,646.23 L127.5,646.22 L128.5,646.22 L129.5,646.22 L130.5,646.21 L131.5,646.21 L132.5,646.20 L133.5,646.20 L134.5,646.19 L135.5,646.18 L136.5,646.18 L137.5,646.17 L138.5,646.16 L139.5,646.15 L140.5,646.14 L141.5,646.13 L142.5,646.12 L143.5,646.11 L144.5,646.09 L145.5,646.08 L146.5,646.07 L147.5,646.05 L148.5,646.04 L149.5,646.02 L150.5,646.00 L151.5,645.98 L152.5,645.97 L153.5,645.95 L154.5,645.92 L155.5,645.90 L156.5,645.88 L157.5,645.86 L158.5,645.83 L159.5,645.81 L160.5,645.78 L161.5,645.75 L162.5,645.72 L163.5,645.69 L164.5,645.66 L165.5,645.63 L166.5,645.59 L167.5,645.56 L168.5,645.52 L169.5,645.48 L170.5,645.45 L171.5,645.41 L172.5,645.36 L173.5,645.32 L174.5,645.28 L175.5,645.23 L176.5,645.18 L177.5,645.13 L178.5,645.08 L179.5,645.03 L180.5,644.97 L181.5,644.92 L182.5,644.86 L183.5,644.80 L184.5,644.74 L185.5,644.68 L186.5,644.61 L187.5,644.54 L188.5,644.47 L189.5,644.40 L190.5,644.33 L191.5,644.25 L192.5,644.18 L193.5,644.10 L194.5,644.01 L195.5,643.93 L196.5,643.84 L197.5,643.75 L198.5,643.66 L199.5,643.57 L200.5,643.47 L201.5,643.37 L202.5,643.27 L203.5,643.17 L204.5,643.06 L205.5,642.95 L206.5,642.84 L207.5,642.72 L208.5,642.60 L209.5,642.48 L210.5,642.36 L211.5,642.23 L212.5,642.10 L213.5,641.96 L214.5,641.83 L215.5,641.69 L216.5,641.54 L217.5,641.40 L218.5,641.25 L219.5,641.09 L220.5,640.93 L221.5,640.77 L222.5,640.60 L223.5,640.43 L224.5,640.26 L225.5,640.08 L226.5,639.90 L227.5,639.71 L228.5,639.52 L229.5,639.33 L230.5,639.13 L231.5,638.93 L232.5,638.72 L233.5,638.51 L234.5,638.30 L235.5,638.08 L236.5,637.85 L237.5,637.62 L238.5,637.39 L239.5,637.15 L240.5,636.91 L241.5,636.66 L242.5,636.41 L243.5,636.16 L244.5,635.90 L245.5,635.63 L246.5,635.36 L247.5,635.09 L248.5,634.80 L249.5,634.52 L250.5,634.23 L251.5,633.93 L252.5,633.63 L253.5,633.32 L254.5,633.01 L255.5,632.70 L256.5,632.37 L257.5,632.04 L258.5,631.71 L259.5,631.37 L260.5,631.02 L261.5,630.67 L262.5,630.31 L263.5,629.94 L264.5,629.57 L265.5,629.20 L266.5,628.81 L267.5,628.42 L268.5,628.02 L269.5,627.62 L270.5,627.21 L271.5,626.79 L272.5,626.36 L273.5,625.93 L274.5,625.49 L275.5,625.04 L276.5,624.58 L277.5,624.12 L278.5,623.65 L279.5,623.16 L280.5,622.67 L281.5,622.18 L282.5,621.67 L283.5,621.15 L284.5,620.62 L285.5,620.09 L286.5,619.54 L287.5,618.98 L288.5,618.42 L289.5,617.84 L290.5,617.25 L291.5,616.65 L292.5,616.03 L293.5,615.40 L294.5,614.76 L295.5,614.10 L296.5,613.42 L297.5,612.73 L298.5,612.02 L299.5,611.29 L300.5,610.55 L301.5,609.79 L302.5,609.01 L303.5,608.21 L304.5,607.39 L305.5,606.55 L306.5,605.70 L307.5,604.82 L308.5,603.92 L309.5,603.00 L310.5,602.05 L311.5,601.09 L312.5,600.10 L313.5,599.09 L314.5,598.06 L315.5,597.01 L316.5,595.93 L317.5,594.82 L318.5,593.70 L319.5,592.54 L320.5,591.36 L321.5,590.16 L322.5,588.93 L323.5,587.67 L324.5,586.39 L325.5,585.08 L326.5,583.74 L327.5,582.38 L328.5,580.99 L329.5,579.58 L330.5,578.13 L331.5,576.67 L332.5,575.17 L333.5,573.65 L334.5,572.11 L335.5,570.55 L336.5,568.96 L337.5,567.35 L338.5,565.72 L339.5,564.07 L340.5,562.40 L341.5,560.72 L342.5,559.02 L343.5,557.32 L344.5,555.61 L345.5,553.90 L346.5,552.19 L347.5,550.48 L348.5,548.80 L349.5,547.13 L350.5,545.49 L351.5,543.89 L352.5,542.35 L353.5,540.85 L354.5,539.43 L355.5,538.10 L356.5,536.85 L357.5,535.71 L358.5,534.70 L359.5,533.81 L360.5,533.07 L361.5,532.49 L362.5,532.07 L363.5,531.82 L364.5,531.74 L365.5,531.84 L366.5,532.12 L367.5,532.57 L368.5,533.19 L369.5,533.97 L370.5,534.90 L371.5,535.97 L372.5,537.16 L373.5,538.47 L374.5,539.88 L375.5,541.37 L376.5,542.93 L377.5,544.55 L378.5,546.23 L379.5,547.94 L380.5,549.68 L381.5,551.44 L382.5,553.21 L383.5,554.99 L384.5,556.77 L385.5,558.55 L386.5,560.32 L387.5,562.08 L388.5,563.82 L389.5,565.56 L390.5,567.27 L391.5,568.96 L392.5,570.64 L393.5,572.29 L394.5,573.91 L395.5,575.51 L396.5,577.09 L397.5,578.63 L398.5,580.15 L399.5,581.63 L400.5,583.09 L401.5,584.52 L402.5,585.92 L403.5,587.30 L404.5,588.64 L405.5,589.95 L406.5,591.24 L407.5,592.50 L408.5,593.73 L409.5,594.93 L410.5,596.11 L411.5,597.26 L412.5,598.38 L413.5,599.48 L414.5,600.56 L415.5,601.61 L416.5,602.64 L417.5,603.65 L418.5,604.64 L419.5,605.60 L420.5,606.55 L421.5,607.47 L422.5,608.37 L423.5,609.25 L424.5,610.12 L425.5,610.96 L426.5,611.79 L427.5,612.60 L428.5,613.39 L429.5,614.17 L430.5,614.93 L431.5,615.67 L432.5,616.40 L433.5,617.11 L434.5,617.81 L435.5,618.49 L436.5,619.16 L437.5,619.82 L438.5,620.46 L439.5,621.09 L440.5,621.71 L441.5,622.31 L442.5,622.91 L443.5,623.49 L444.5,624.05 L445.5,624.61 L446.5,625.16 L447.5,625.69 L448.5,626.21 L449.5,626.72 L450.5,627.22 L451.5,627.70 L452.5,628.18 L453.5,628.64 L454.5,629.09 L455.5,629.53 L456.5,629.97 L457.5,630.39 L458.5,630.79 L459.5,631.19 L460.5,631.58 L461.5,631.96 L462.5,632.33 L463.5,632.69 L464.5,633.04 L465.5,633.38 L466.5,633.71 L467.5,634.04 L468.5,634.35 L469.5,634.66 L470.5,634.95 L471.5,635.24 L472.5,635.52 L473.5,635.80 L474.5,636.07 L475.5,636.32 L476.5,636.58 L477.5,636.82 L478.5,637.06 L479.5,637.29 L480.5,637.52 L481.5,637.74 L482.5,637.95 L483.5,638.16 L484.5,638.36 L485.5,638.56 L486.5,638.75 L487.5,638.93 L488.5,639.11 L489.5,639.29 L490.5,639.46 L491.5,639.63 L492.5,639.79 L493.5,639.95 L494.5,640.10 L495.5,640.25 L496.5,640.40 L497.5,640.54 L498.5,640.68 L499.5,640.81 L500.5,640.95 L501.5,641.08 L502.5,641.21 L503.5,641.33 L504.5,641.46 L505.5,641.58 L506.5,641.69 L507.5,641.81 L508.5,641.93 L509.5,642.04 L510.5,642.15 L511.5,642.26 L512.5,642.36 L513.5,642.47 L514.5,642.57 L515.5,642.67 L516.5,642.76 L517.5,642.86 L518.5,642.95 L519.5,643.04 L520.5,643.13 L521.5,643.22 L522.5,643.31 L523.5,643.39 L524.5,643.47 L525.5,643.55 L526.5,643.63 L527.5,643.71 L528.5,643.78 L529.5,643.85 L530.5,643.92 L531.5,643.99 L532.5,644.06 L533.5,644.13 L534.5,644.19 L535.5,644.25 L536.5,644.31 L537.5,644.37 L538.5,644.43 L539.5,644.49 L540.5,644.54 L541.5,644.59 L542.5,644.64 L543.5,644.69 L544.5,644.74 L545.5,644.79 L546.5,644.83 L547.5,644.88 L548.5,644.92 L549.5,644.96 L550.5,645.00 L551.5,645.04 L552.5,645.08 L553.5,645.12 L554.5,645.15 L555.5,645.19 L556.5,645.22 L557.5,645.25 L558.5,645.28 L559.5,645.32 L560.5,645.35 L561.5,645.37 L562.5,645.40 L563.5,645.43 L564.5,645.45 L565.5,645.48 L566.5,645.50 L567.5,645.53 L568.5,645.55 L569.5,645.57 L570.5,645.59 L571.5,645.62 L572.5,645.64 L573.5,645.66 L574.5,645.67 L575.5,645.69 L576.5,645.71 L577.5,645.73 L578.5,645.74 L579.5,645.76 L580.5,645.77 L581.5,645.79 L582.5,645.80 L583.5,645.82 L584.5,645.83 L585.5,645.84 L586.5,645.85 L587.5,645.87 L588.5,645.88 L589.5,645.89 L590.5,645.90 L591.5,645.91 L592.5,645.92 L593.5,645.93 L594.5,645.94 L595.5,645.95 L596.5,645.96 L597.5,645.96 L598.5,645.97 L599.5,645.98 L600.5,645.99 L601.5,645.99 L602.5,646.00 L603.5,646.01 L603.8,646.01" fill="none" stroke="#E30613" stroke-width="4.4" stroke-linejoin="round"/>
</svg>
</body></html>
